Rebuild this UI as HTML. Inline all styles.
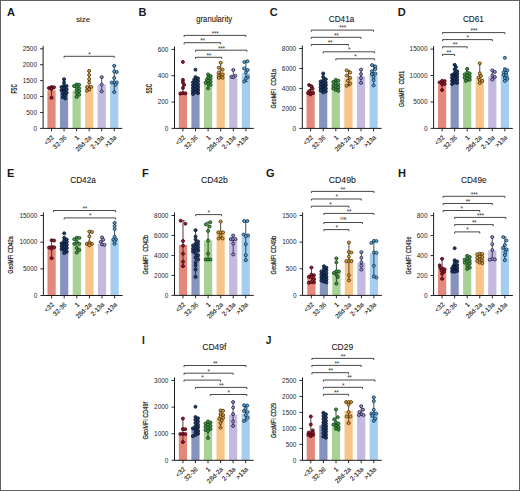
<!DOCTYPE html>
<html><head><meta charset="utf-8"><style>
html,body{margin:0;padding:0;background:#fff;overflow:hidden;width:520px;height:491px;}
svg{display:block;}
text{font-family:"Liberation Sans", sans-serif;}
</style></head><body>
<svg width="520" height="491" viewBox="0 0 520 491">
<rect x="0" y="0" width="520" height="491" fill="#fff"/>
<text x="6.9" y="16.2" font-size="11" font-weight="bold" fill="#1a1a1a">A</text>
<text x="83.2" y="21.7" font-size="7.9" text-anchor="middle" fill="#1a1a1a" stroke="#1a1a1a" stroke-width="0.1">size</text>
<rect x="47.4" y="90.19" width="8.2" height="38.21" fill="#E4887B"/>
<rect x="59.95" y="89.56" width="8.2" height="38.84" fill="#8793BF"/>
<rect x="72.5" y="90.51" width="8.2" height="37.89" fill="#A8D195"/>
<rect x="85.05" y="86.05" width="8.2" height="42.35" fill="#F9C488"/>
<rect x="97.6" y="84.46" width="8.2" height="43.94" fill="#C4B9DF"/>
<rect x="110.15" y="83.82" width="8.2" height="44.58" fill="#A4CDF0"/>
<path d="M51.5 87.01V97.83M49.7 87.01H53.3M49.7 97.83H53.3" stroke="#3a1a20" stroke-width="0.85" fill="none"/>
<path d="M64.05 79.24V98.47M62.25 79.24H65.85M62.25 98.47H65.85" stroke="#141c2c" stroke-width="0.85" fill="none"/>
<path d="M76.6 84.46V96.88M74.8 84.46H78.4M74.8 96.88H78.4" stroke="#1c301c" stroke-width="0.85" fill="none"/>
<path d="M89.15 70.9V90.7M87.35 70.9H90.95M87.35 90.7H90.95" stroke="#3c2c10" stroke-width="0.85" fill="none"/>
<path d="M101.7 77.14V91.47M99.9 77.14H103.5M99.9 91.47H103.5" stroke="#2a2840" stroke-width="0.85" fill="none"/>
<path d="M114.25 65.83V92.1M112.45 65.83H116.05M112.45 92.1H116.05" stroke="#1a2e40" stroke-width="0.85" fill="none"/>
<circle cx="51.5" cy="87.01" r="1.5" fill="#921C30" stroke="#45050f" stroke-width="0.85"/>
<circle cx="54.05" cy="87.33" r="1.5" fill="#921C30" stroke="#45050f" stroke-width="0.85"/>
<circle cx="48.95" cy="87.96" r="1.5" fill="#921C30" stroke="#45050f" stroke-width="0.85"/>
<circle cx="51.5" cy="88.6" r="1.5" fill="#921C30" stroke="#45050f" stroke-width="0.85"/>
<circle cx="51.5" cy="88.92" r="1.5" fill="#921C30" stroke="#45050f" stroke-width="0.85"/>
<circle cx="51.5" cy="97.83" r="1.5" fill="#921C30" stroke="#45050f" stroke-width="0.85"/>
<circle cx="64.05" cy="79.24" r="1.5" fill="#1F3C6A" stroke="#0a1630" stroke-width="0.85"/>
<circle cx="64.05" cy="82.55" r="1.5" fill="#1F3C6A" stroke="#0a1630" stroke-width="0.85"/>
<circle cx="64.05" cy="85.42" r="1.5" fill="#1F3C6A" stroke="#0a1630" stroke-width="0.85"/>
<circle cx="66.6" cy="86.05" r="1.5" fill="#1F3C6A" stroke="#0a1630" stroke-width="0.85"/>
<circle cx="61.5" cy="87.01" r="1.5" fill="#1F3C6A" stroke="#0a1630" stroke-width="0.85"/>
<circle cx="64.05" cy="87.64" r="1.5" fill="#1F3C6A" stroke="#0a1630" stroke-width="0.85"/>
<circle cx="64.05" cy="88.28" r="1.5" fill="#1F3C6A" stroke="#0a1630" stroke-width="0.85"/>
<circle cx="66.6" cy="89.24" r="1.5" fill="#1F3C6A" stroke="#0a1630" stroke-width="0.85"/>
<circle cx="61.5" cy="90.19" r="1.5" fill="#1F3C6A" stroke="#0a1630" stroke-width="0.85"/>
<circle cx="64.05" cy="90.83" r="1.5" fill="#1F3C6A" stroke="#0a1630" stroke-width="0.85"/>
<circle cx="64.05" cy="91.78" r="1.5" fill="#1F3C6A" stroke="#0a1630" stroke-width="0.85"/>
<circle cx="66.6" cy="92.74" r="1.5" fill="#1F3C6A" stroke="#0a1630" stroke-width="0.85"/>
<circle cx="62.77" cy="94.01" r="1.5" fill="#1F3C6A" stroke="#0a1630" stroke-width="0.85"/>
<circle cx="65.33" cy="95.29" r="1.5" fill="#1F3C6A" stroke="#0a1630" stroke-width="0.85"/>
<circle cx="62.77" cy="97.2" r="1.5" fill="#1F3C6A" stroke="#0a1630" stroke-width="0.85"/>
<circle cx="65.33" cy="98.47" r="1.5" fill="#1F3C6A" stroke="#0a1630" stroke-width="0.85"/>
<circle cx="76.6" cy="84.46" r="1.5" fill="#4A9C4C" stroke="#0f4014" stroke-width="0.85"/>
<circle cx="79.15" cy="84.78" r="1.5" fill="#4A9C4C" stroke="#0f4014" stroke-width="0.85"/>
<circle cx="74.05" cy="86.05" r="1.5" fill="#4A9C4C" stroke="#0f4014" stroke-width="0.85"/>
<circle cx="76.6" cy="86.69" r="1.5" fill="#4A9C4C" stroke="#0f4014" stroke-width="0.85"/>
<circle cx="79.15" cy="88.28" r="1.5" fill="#4A9C4C" stroke="#0f4014" stroke-width="0.85"/>
<circle cx="76.6" cy="89.56" r="1.5" fill="#4A9C4C" stroke="#0f4014" stroke-width="0.85"/>
<circle cx="79.15" cy="91.15" r="1.5" fill="#4A9C4C" stroke="#0f4014" stroke-width="0.85"/>
<circle cx="76.6" cy="92.74" r="1.5" fill="#4A9C4C" stroke="#0f4014" stroke-width="0.85"/>
<circle cx="79.15" cy="94.65" r="1.5" fill="#4A9C4C" stroke="#0f4014" stroke-width="0.85"/>
<circle cx="76.6" cy="96.88" r="1.5" fill="#4A9C4C" stroke="#0f4014" stroke-width="0.85"/>
<circle cx="87.15" cy="87.01" r="1.5" fill="#DDA445" stroke="#4f3206" stroke-width="0.85"/>
<circle cx="91.15" cy="86.85" r="1.5" fill="#DDA445" stroke="#4f3206" stroke-width="0.85"/>
<circle cx="86.95" cy="90.7" r="1.5" fill="#DDA445" stroke="#4f3206" stroke-width="0.85"/>
<circle cx="89.15" cy="70.9" r="1.5" fill="#DDA445" stroke="#4f3206" stroke-width="0.85"/>
<circle cx="89.15" cy="75.07" r="1.5" fill="#DDA445" stroke="#4f3206" stroke-width="0.85"/>
<circle cx="89.15" cy="79.24" r="1.5" fill="#DDA445" stroke="#4f3206" stroke-width="0.85"/>
<circle cx="89.15" cy="82.55" r="1.5" fill="#DDA445" stroke="#4f3206" stroke-width="0.85"/>
<circle cx="89.15" cy="89.2" r="1.5" fill="#DDA445" stroke="#4f3206" stroke-width="0.85"/>
<circle cx="101.7" cy="77.14" r="1.5" fill="#A097D0" stroke="#26224a" stroke-width="0.85"/>
<circle cx="101.7" cy="84.46" r="1.5" fill="#A097D0" stroke="#26224a" stroke-width="0.85"/>
<circle cx="101.7" cy="91.47" r="1.5" fill="#A097D0" stroke="#26224a" stroke-width="0.85"/>
<circle cx="114.25" cy="65.83" r="1.5" fill="#64A8D8" stroke="#0f3452" stroke-width="0.85"/>
<circle cx="114.25" cy="71.41" r="1.5" fill="#64A8D8" stroke="#0f3452" stroke-width="0.85"/>
<circle cx="116.8" cy="72.04" r="1.5" fill="#64A8D8" stroke="#0f3452" stroke-width="0.85"/>
<circle cx="114.25" cy="77.97" r="1.5" fill="#64A8D8" stroke="#0f3452" stroke-width="0.85"/>
<circle cx="114.25" cy="82.23" r="1.5" fill="#64A8D8" stroke="#0f3452" stroke-width="0.85"/>
<circle cx="116.8" cy="82.39" r="1.5" fill="#64A8D8" stroke="#0f3452" stroke-width="0.85"/>
<circle cx="111.7" cy="82.55" r="1.5" fill="#64A8D8" stroke="#0f3452" stroke-width="0.85"/>
<circle cx="115.53" cy="84.78" r="1.5" fill="#64A8D8" stroke="#0f3452" stroke-width="0.85"/>
<circle cx="114.25" cy="92.1" r="1.5" fill="#64A8D8" stroke="#0f3452" stroke-width="0.85"/>
<path d="M43.1 45.8V128.4H122.25" stroke="#1c1c1c" stroke-width="1" fill="none"/>
<path d="M40.1 128.4H43.1" stroke="#1c1c1c" stroke-width="0.95"/>
<text x="37" y="130.6" font-size="6.45" text-anchor="end" fill="#262626">0</text>
<path d="M40.1 112.48H43.1" stroke="#1c1c1c" stroke-width="0.95"/>
<text x="37" y="114.68" font-size="6.45" text-anchor="end" fill="#262626">500</text>
<path d="M40.1 96.56H43.1" stroke="#1c1c1c" stroke-width="0.95"/>
<text x="37" y="98.76" font-size="6.45" text-anchor="end" fill="#262626">1000</text>
<path d="M40.1 80.64H43.1" stroke="#1c1c1c" stroke-width="0.95"/>
<text x="37" y="82.84" font-size="6.45" text-anchor="end" fill="#262626">1500</text>
<path d="M40.1 64.72H43.1" stroke="#1c1c1c" stroke-width="0.95"/>
<text x="37" y="66.92" font-size="6.45" text-anchor="end" fill="#262626">2000</text>
<path d="M40.1 48.8H43.1" stroke="#1c1c1c" stroke-width="0.95"/>
<text x="37" y="51" font-size="6.45" text-anchor="end" fill="#262626">2500</text>
<path d="M51.5 128.4V131.3" stroke="#1c1c1c" stroke-width="0.95"/>
<text x="54.4" y="137.9" font-size="6.4" text-anchor="end" fill="#222" stroke="#222" stroke-width="0.1" transform="rotate(-45 54.4 137.9)">&lt;32</text>
<path d="M64.05 128.4V131.3" stroke="#1c1c1c" stroke-width="0.95"/>
<text x="66.95" y="137.9" font-size="6.4" text-anchor="end" fill="#222" stroke="#222" stroke-width="0.1" transform="rotate(-45 66.95 137.9)">32-36</text>
<path d="M76.6 128.4V131.3" stroke="#1c1c1c" stroke-width="0.95"/>
<text x="79.5" y="137.9" font-size="6.4" text-anchor="end" fill="#222" stroke="#222" stroke-width="0.1" transform="rotate(-45 79.5 137.9)">1</text>
<path d="M89.15 128.4V131.3" stroke="#1c1c1c" stroke-width="0.95"/>
<text x="92.05" y="137.9" font-size="6.4" text-anchor="end" fill="#222" stroke="#222" stroke-width="0.1" transform="rotate(-45 92.05 137.9)">28d-2a</text>
<path d="M101.7 128.4V131.3" stroke="#1c1c1c" stroke-width="0.95"/>
<text x="104.6" y="137.9" font-size="6.4" text-anchor="end" fill="#222" stroke="#222" stroke-width="0.1" transform="rotate(-45 104.6 137.9)">2-13a</text>
<path d="M114.25 128.4V131.3" stroke="#1c1c1c" stroke-width="0.95"/>
<text x="117.15" y="137.9" font-size="6.4" text-anchor="end" fill="#222" stroke="#222" stroke-width="0.1" transform="rotate(-45 117.15 137.9)">&gt;13a</text>
<text x="-4.75" y="0" font-size="8.3" font-weight="bold" fill="#1a1a1a" stroke="#1a1a1a" stroke-width="0" textLength="9.5" lengthAdjust="spacingAndGlyphs" transform="translate(16.67 88.85) rotate(-90)" xml:space="preserve">FSC</text>
<path d="M64.05 57.9V56.3H114.25V57.9" stroke="#333" stroke-width="0.9" fill="none"/>
<text x="89.3" y="56.65" font-size="6.4" text-anchor="middle" fill="#333" letter-spacing="-0.3">*</text>
<text x="138.6" y="16.2" font-size="11" font-weight="bold" fill="#1a1a1a">B</text>
<text x="214.2" y="21.8" font-size="8.2" text-anchor="middle" fill="#1a1a1a" stroke="#1a1a1a" stroke-width="0.1" textLength="35.8" lengthAdjust="spacingAndGlyphs">granularity</text>
<rect x="178.8" y="91.53" width="8.2" height="36.87" fill="#E4887B"/>
<rect x="191.4" y="84.95" width="8.2" height="43.45" fill="#8793BF"/>
<rect x="204" y="82.32" width="8.2" height="46.08" fill="#A8D195"/>
<rect x="216.6" y="72.44" width="8.2" height="55.96" fill="#F9C488"/>
<rect x="229.2" y="77.71" width="8.2" height="50.69" fill="#C4B9DF"/>
<rect x="241.8" y="73.1" width="8.2" height="55.3" fill="#A4CDF0"/>
<path d="M182.9 80.94V93.64M181.1 80.94H184.7M181.1 93.64H184.7" stroke="#3a1a20" stroke-width="0.85" fill="none"/>
<path d="M195.5 78.64V91.26M193.7 78.64H197.3M193.7 91.26H197.3" stroke="#141c2c" stroke-width="0.85" fill="none"/>
<path d="M208.1 74.42V88.37M206.3 74.42H209.9M206.3 88.37H209.9" stroke="#1c301c" stroke-width="0.85" fill="none"/>
<path d="M220.7 62.7V77.84M218.9 62.7H222.5M218.9 77.84H222.5" stroke="#3c2c10" stroke-width="0.85" fill="none"/>
<path d="M233.3 69.94V77.31M231.5 69.94H235.1M231.5 77.31H235.1" stroke="#2a2840" stroke-width="0.85" fill="none"/>
<path d="M245.9 61.25V81.53M244.1 61.25H247.7M244.1 81.53H247.7" stroke="#1a2e40" stroke-width="0.85" fill="none"/>
<circle cx="182.9" cy="61.91" r="1.5" fill="#921C30" stroke="#45050f" stroke-width="0.85"/>
<circle cx="182.9" cy="79.81" r="1.5" fill="#921C30" stroke="#45050f" stroke-width="0.85"/>
<circle cx="182.9" cy="82.45" r="1.5" fill="#921C30" stroke="#45050f" stroke-width="0.85"/>
<circle cx="184.18" cy="84.82" r="1.5" fill="#921C30" stroke="#45050f" stroke-width="0.85"/>
<circle cx="182.9" cy="87.98" r="1.5" fill="#921C30" stroke="#45050f" stroke-width="0.85"/>
<circle cx="182.9" cy="93.11" r="1.5" fill="#921C30" stroke="#45050f" stroke-width="0.85"/>
<circle cx="185.45" cy="93.38" r="1.5" fill="#921C30" stroke="#45050f" stroke-width="0.85"/>
<circle cx="180.35" cy="93.64" r="1.5" fill="#921C30" stroke="#45050f" stroke-width="0.85"/>
<circle cx="195.5" cy="69.68" r="1.5" fill="#1F3C6A" stroke="#0a1630" stroke-width="0.85"/>
<circle cx="195.5" cy="77.05" r="1.5" fill="#1F3C6A" stroke="#0a1630" stroke-width="0.85"/>
<circle cx="198.05" cy="78.37" r="1.5" fill="#1F3C6A" stroke="#0a1630" stroke-width="0.85"/>
<circle cx="194.22" cy="79.42" r="1.5" fill="#1F3C6A" stroke="#0a1630" stroke-width="0.85"/>
<circle cx="195.5" cy="80.34" r="1.5" fill="#1F3C6A" stroke="#0a1630" stroke-width="0.85"/>
<circle cx="198.05" cy="81.26" r="1.5" fill="#1F3C6A" stroke="#0a1630" stroke-width="0.85"/>
<circle cx="192.95" cy="82.32" r="1.5" fill="#1F3C6A" stroke="#0a1630" stroke-width="0.85"/>
<circle cx="195.5" cy="83.37" r="1.5" fill="#1F3C6A" stroke="#0a1630" stroke-width="0.85"/>
<circle cx="198.05" cy="84.29" r="1.5" fill="#1F3C6A" stroke="#0a1630" stroke-width="0.85"/>
<circle cx="192.95" cy="85.21" r="1.5" fill="#1F3C6A" stroke="#0a1630" stroke-width="0.85"/>
<circle cx="195.5" cy="86.27" r="1.5" fill="#1F3C6A" stroke="#0a1630" stroke-width="0.85"/>
<circle cx="198.05" cy="87.32" r="1.5" fill="#1F3C6A" stroke="#0a1630" stroke-width="0.85"/>
<circle cx="192.95" cy="88.24" r="1.5" fill="#1F3C6A" stroke="#0a1630" stroke-width="0.85"/>
<circle cx="195.5" cy="89.16" r="1.5" fill="#1F3C6A" stroke="#0a1630" stroke-width="0.85"/>
<circle cx="198.05" cy="90.22" r="1.5" fill="#1F3C6A" stroke="#0a1630" stroke-width="0.85"/>
<circle cx="192.95" cy="91.27" r="1.5" fill="#1F3C6A" stroke="#0a1630" stroke-width="0.85"/>
<circle cx="195.5" cy="92.19" r="1.5" fill="#1F3C6A" stroke="#0a1630" stroke-width="0.85"/>
<circle cx="198.05" cy="93.11" r="1.5" fill="#1F3C6A" stroke="#0a1630" stroke-width="0.85"/>
<circle cx="192.95" cy="93.9" r="1.5" fill="#1F3C6A" stroke="#0a1630" stroke-width="0.85"/>
<circle cx="208.1" cy="74.42" r="1.5" fill="#4A9C4C" stroke="#0f4014" stroke-width="0.85"/>
<circle cx="210.65" cy="76" r="1.5" fill="#4A9C4C" stroke="#0f4014" stroke-width="0.85"/>
<circle cx="208.1" cy="77.31" r="1.5" fill="#4A9C4C" stroke="#0f4014" stroke-width="0.85"/>
<circle cx="210.65" cy="78.63" r="1.5" fill="#4A9C4C" stroke="#0f4014" stroke-width="0.85"/>
<circle cx="206.82" cy="79.68" r="1.5" fill="#4A9C4C" stroke="#0f4014" stroke-width="0.85"/>
<circle cx="208.1" cy="80.74" r="1.5" fill="#4A9C4C" stroke="#0f4014" stroke-width="0.85"/>
<circle cx="210.65" cy="81.66" r="1.5" fill="#4A9C4C" stroke="#0f4014" stroke-width="0.85"/>
<circle cx="205.55" cy="82.71" r="1.5" fill="#4A9C4C" stroke="#0f4014" stroke-width="0.85"/>
<circle cx="208.1" cy="83.9" r="1.5" fill="#4A9C4C" stroke="#0f4014" stroke-width="0.85"/>
<circle cx="210.65" cy="84.95" r="1.5" fill="#4A9C4C" stroke="#0f4014" stroke-width="0.85"/>
<circle cx="208.1" cy="88.37" r="1.5" fill="#4A9C4C" stroke="#0f4014" stroke-width="0.85"/>
<circle cx="218.8" cy="67.7" r="1.5" fill="#DDA445" stroke="#4f3206" stroke-width="0.85"/>
<circle cx="222.6" cy="69.68" r="1.5" fill="#DDA445" stroke="#4f3206" stroke-width="0.85"/>
<circle cx="218.8" cy="72.44" r="1.5" fill="#DDA445" stroke="#4f3206" stroke-width="0.85"/>
<circle cx="222.6" cy="74.42" r="1.5" fill="#DDA445" stroke="#4f3206" stroke-width="0.85"/>
<circle cx="218.8" cy="75.73" r="1.5" fill="#DDA445" stroke="#4f3206" stroke-width="0.85"/>
<circle cx="218.8" cy="77.84" r="1.5" fill="#DDA445" stroke="#4f3206" stroke-width="0.85"/>
<circle cx="222.6" cy="77.84" r="1.5" fill="#DDA445" stroke="#4f3206" stroke-width="0.85"/>
<circle cx="220.7" cy="62.7" r="1.5" fill="#DDA445" stroke="#4f3206" stroke-width="0.85"/>
<circle cx="235.3" cy="75.73" r="1.5" fill="#A097D0" stroke="#26224a" stroke-width="0.85"/>
<circle cx="231.3" cy="76.79" r="1.5" fill="#A097D0" stroke="#26224a" stroke-width="0.85"/>
<circle cx="233.3" cy="77.31" r="1.5" fill="#A097D0" stroke="#26224a" stroke-width="0.85"/>
<circle cx="233.3" cy="69.94" r="1.5" fill="#A097D0" stroke="#26224a" stroke-width="0.85"/>
<circle cx="247.5" cy="61.25" r="1.5" fill="#64A8D8" stroke="#0f3452" stroke-width="0.85"/>
<circle cx="244.3" cy="62.04" r="1.5" fill="#64A8D8" stroke="#0f3452" stroke-width="0.85"/>
<circle cx="244.1" cy="68.49" r="1.5" fill="#64A8D8" stroke="#0f3452" stroke-width="0.85"/>
<circle cx="247.7" cy="69.94" r="1.5" fill="#64A8D8" stroke="#0f3452" stroke-width="0.85"/>
<circle cx="245.9" cy="72.44" r="1.5" fill="#64A8D8" stroke="#0f3452" stroke-width="0.85"/>
<circle cx="247.8" cy="77.18" r="1.5" fill="#64A8D8" stroke="#0f3452" stroke-width="0.85"/>
<circle cx="245.9" cy="78.63" r="1.5" fill="#64A8D8" stroke="#0f3452" stroke-width="0.85"/>
<circle cx="244.1" cy="81.53" r="1.5" fill="#64A8D8" stroke="#0f3452" stroke-width="0.85"/>
<path d="M174.5 46.4V128.4H253.9" stroke="#1c1c1c" stroke-width="1" fill="none"/>
<path d="M171.5 128.4H174.5" stroke="#1c1c1c" stroke-width="0.95"/>
<text x="168.4" y="130.6" font-size="6.45" text-anchor="end" fill="#262626">0</text>
<path d="M171.5 102.07H174.5" stroke="#1c1c1c" stroke-width="0.95"/>
<text x="168.4" y="104.27" font-size="6.45" text-anchor="end" fill="#262626">200</text>
<path d="M171.5 75.73H174.5" stroke="#1c1c1c" stroke-width="0.95"/>
<text x="168.4" y="77.93" font-size="6.45" text-anchor="end" fill="#262626">400</text>
<path d="M171.5 49.4H174.5" stroke="#1c1c1c" stroke-width="0.95"/>
<text x="168.4" y="51.6" font-size="6.45" text-anchor="end" fill="#262626">600</text>
<path d="M182.9 128.4V131.3" stroke="#1c1c1c" stroke-width="0.95"/>
<text x="185.8" y="137.9" font-size="6.4" text-anchor="end" fill="#222" stroke="#222" stroke-width="0.1" transform="rotate(-45 185.8 137.9)">&lt;32</text>
<path d="M195.5 128.4V131.3" stroke="#1c1c1c" stroke-width="0.95"/>
<text x="198.4" y="137.9" font-size="6.4" text-anchor="end" fill="#222" stroke="#222" stroke-width="0.1" transform="rotate(-45 198.4 137.9)">32-36</text>
<path d="M208.1 128.4V131.3" stroke="#1c1c1c" stroke-width="0.95"/>
<text x="211" y="137.9" font-size="6.4" text-anchor="end" fill="#222" stroke="#222" stroke-width="0.1" transform="rotate(-45 211 137.9)">1</text>
<path d="M220.7 128.4V131.3" stroke="#1c1c1c" stroke-width="0.95"/>
<text x="223.6" y="137.9" font-size="6.4" text-anchor="end" fill="#222" stroke="#222" stroke-width="0.1" transform="rotate(-45 223.6 137.9)">28d-2a</text>
<path d="M233.3 128.4V131.3" stroke="#1c1c1c" stroke-width="0.95"/>
<text x="236.2" y="137.9" font-size="6.4" text-anchor="end" fill="#222" stroke="#222" stroke-width="0.1" transform="rotate(-45 236.2 137.9)">2-13a</text>
<path d="M245.9 128.4V131.3" stroke="#1c1c1c" stroke-width="0.95"/>
<text x="248.8" y="137.9" font-size="6.4" text-anchor="end" fill="#222" stroke="#222" stroke-width="0.1" transform="rotate(-45 248.8 137.9)">&gt;13a</text>
<text x="-4.9" y="0" font-size="8.3" font-weight="bold" fill="#1a1a1a" stroke="#1a1a1a" stroke-width="0" textLength="9.8" lengthAdjust="spacingAndGlyphs" transform="translate(151.87 88.7) rotate(-90)" xml:space="preserve">SSC</text>
<path d="M184.1 37V35.4H245.9V37" stroke="#333" stroke-width="0.9" fill="none"/>
<text x="215.15" y="35.75" font-size="6.4" text-anchor="middle" fill="#333" letter-spacing="-0.3">***</text>
<path d="M184.1 44.3V42.7H220.7V44.3" stroke="#333" stroke-width="0.9" fill="none"/>
<text x="202.55" y="43.05" font-size="6.4" text-anchor="middle" fill="#333" letter-spacing="-0.3">**</text>
<path d="M195.5 51.8V50.2H246.9V51.8" stroke="#333" stroke-width="0.9" fill="none"/>
<text x="221.35" y="50.55" font-size="6.4" text-anchor="middle" fill="#333" letter-spacing="-0.3">***</text>
<path d="M195.5 58.9V57.3H221.7V58.9" stroke="#333" stroke-width="0.9" fill="none"/>
<text x="208.75" y="57.65" font-size="6.4" text-anchor="middle" fill="#333" letter-spacing="-0.3">**</text>
<text x="269.8" y="16.2" font-size="11" font-weight="bold" fill="#1a1a1a">C</text>
<text x="341.5" y="21.7" font-size="8.2" text-anchor="middle" fill="#1a1a1a" stroke="#1a1a1a" stroke-width="0.1">CD41a</text>
<rect x="306.5" y="90.45" width="8.2" height="37.95" fill="#E4887B"/>
<rect x="319.1" y="84.46" width="8.2" height="43.94" fill="#8793BF"/>
<rect x="331.7" y="85.45" width="8.2" height="42.95" fill="#A8D195"/>
<rect x="344.3" y="78.46" width="8.2" height="49.94" fill="#F9C488"/>
<rect x="356.9" y="76.27" width="8.2" height="52.13" fill="#C4B9DF"/>
<rect x="369.5" y="73.47" width="8.2" height="54.93" fill="#A4CDF0"/>
<path d="M310.6 85.05V94.44M308.8 85.05H312.4M308.8 94.44H312.4" stroke="#3a1a20" stroke-width="0.85" fill="none"/>
<path d="M323.2 73.47V92.35M321.4 73.47H325M321.4 92.35H325" stroke="#141c2c" stroke-width="0.85" fill="none"/>
<path d="M335.8 79.86V90.85M334 79.86H337.6M334 90.85H337.6" stroke="#1c301c" stroke-width="0.85" fill="none"/>
<path d="M348.4 70.37V85.75M346.6 70.37H350.2M346.6 85.75H350.2" stroke="#3c2c10" stroke-width="0.85" fill="none"/>
<path d="M361 69.67V82.86M359.2 69.67H362.8M359.2 82.86H362.8" stroke="#2a2840" stroke-width="0.85" fill="none"/>
<path d="M373.6 65.08V85.45M371.8 65.08H375.4M371.8 85.45H375.4" stroke="#1a2e40" stroke-width="0.85" fill="none"/>
<circle cx="309.1" cy="85.05" r="1.5" fill="#921C30" stroke="#45050f" stroke-width="0.85"/>
<circle cx="311.6" cy="86.45" r="1.5" fill="#921C30" stroke="#45050f" stroke-width="0.85"/>
<circle cx="312.6" cy="88.65" r="1.5" fill="#921C30" stroke="#45050f" stroke-width="0.85"/>
<circle cx="309.6" cy="90.85" r="1.5" fill="#921C30" stroke="#45050f" stroke-width="0.85"/>
<circle cx="308.1" cy="93.04" r="1.5" fill="#921C30" stroke="#45050f" stroke-width="0.85"/>
<circle cx="310.6" cy="93.04" r="1.5" fill="#921C30" stroke="#45050f" stroke-width="0.85"/>
<circle cx="313.1" cy="93.04" r="1.5" fill="#921C30" stroke="#45050f" stroke-width="0.85"/>
<circle cx="310.6" cy="94.44" r="1.5" fill="#921C30" stroke="#45050f" stroke-width="0.85"/>
<circle cx="323.2" cy="73.47" r="1.5" fill="#1F3C6A" stroke="#0a1630" stroke-width="0.85"/>
<circle cx="323.2" cy="76.96" r="1.5" fill="#1F3C6A" stroke="#0a1630" stroke-width="0.85"/>
<circle cx="325.75" cy="79.16" r="1.5" fill="#1F3C6A" stroke="#0a1630" stroke-width="0.85"/>
<circle cx="323.2" cy="80.46" r="1.5" fill="#1F3C6A" stroke="#0a1630" stroke-width="0.85"/>
<circle cx="320.65" cy="81.46" r="1.5" fill="#1F3C6A" stroke="#0a1630" stroke-width="0.85"/>
<circle cx="325.75" cy="82.46" r="1.5" fill="#1F3C6A" stroke="#0a1630" stroke-width="0.85"/>
<circle cx="323.2" cy="83.46" r="1.5" fill="#1F3C6A" stroke="#0a1630" stroke-width="0.85"/>
<circle cx="320.65" cy="84.26" r="1.5" fill="#1F3C6A" stroke="#0a1630" stroke-width="0.85"/>
<circle cx="325.75" cy="85.05" r="1.5" fill="#1F3C6A" stroke="#0a1630" stroke-width="0.85"/>
<circle cx="323.2" cy="85.85" r="1.5" fill="#1F3C6A" stroke="#0a1630" stroke-width="0.85"/>
<circle cx="323.2" cy="86.65" r="1.5" fill="#1F3C6A" stroke="#0a1630" stroke-width="0.85"/>
<circle cx="320.65" cy="87.45" r="1.5" fill="#1F3C6A" stroke="#0a1630" stroke-width="0.85"/>
<circle cx="325.75" cy="88.45" r="1.5" fill="#1F3C6A" stroke="#0a1630" stroke-width="0.85"/>
<circle cx="323.2" cy="89.45" r="1.5" fill="#1F3C6A" stroke="#0a1630" stroke-width="0.85"/>
<circle cx="320.65" cy="90.45" r="1.5" fill="#1F3C6A" stroke="#0a1630" stroke-width="0.85"/>
<circle cx="325.75" cy="91.45" r="1.5" fill="#1F3C6A" stroke="#0a1630" stroke-width="0.85"/>
<circle cx="323.2" cy="92.35" r="1.5" fill="#1F3C6A" stroke="#0a1630" stroke-width="0.85"/>
<circle cx="335.8" cy="79.86" r="1.5" fill="#4A9C4C" stroke="#0f4014" stroke-width="0.85"/>
<circle cx="338.35" cy="80.66" r="1.5" fill="#4A9C4C" stroke="#0f4014" stroke-width="0.85"/>
<circle cx="333.25" cy="81.96" r="1.5" fill="#4A9C4C" stroke="#0f4014" stroke-width="0.85"/>
<circle cx="335.8" cy="83.26" r="1.5" fill="#4A9C4C" stroke="#0f4014" stroke-width="0.85"/>
<circle cx="338.35" cy="84.46" r="1.5" fill="#4A9C4C" stroke="#0f4014" stroke-width="0.85"/>
<circle cx="333.25" cy="85.45" r="1.5" fill="#4A9C4C" stroke="#0f4014" stroke-width="0.85"/>
<circle cx="335.8" cy="86.45" r="1.5" fill="#4A9C4C" stroke="#0f4014" stroke-width="0.85"/>
<circle cx="338.35" cy="87.45" r="1.5" fill="#4A9C4C" stroke="#0f4014" stroke-width="0.85"/>
<circle cx="333.25" cy="88.45" r="1.5" fill="#4A9C4C" stroke="#0f4014" stroke-width="0.85"/>
<circle cx="335.8" cy="89.65" r="1.5" fill="#4A9C4C" stroke="#0f4014" stroke-width="0.85"/>
<circle cx="338.35" cy="90.85" r="1.5" fill="#4A9C4C" stroke="#0f4014" stroke-width="0.85"/>
<circle cx="346.6" cy="70.37" r="1.5" fill="#DDA445" stroke="#4f3206" stroke-width="0.85"/>
<circle cx="350.2" cy="72.57" r="1.5" fill="#DDA445" stroke="#4f3206" stroke-width="0.85"/>
<circle cx="346.6" cy="75.57" r="1.5" fill="#DDA445" stroke="#4f3206" stroke-width="0.85"/>
<circle cx="350.2" cy="77.76" r="1.5" fill="#DDA445" stroke="#4f3206" stroke-width="0.85"/>
<circle cx="347.9" cy="80.66" r="1.5" fill="#DDA445" stroke="#4f3206" stroke-width="0.85"/>
<circle cx="350.2" cy="83.56" r="1.5" fill="#DDA445" stroke="#4f3206" stroke-width="0.85"/>
<circle cx="346.6" cy="85.75" r="1.5" fill="#DDA445" stroke="#4f3206" stroke-width="0.85"/>
<circle cx="361" cy="69.67" r="1.5" fill="#A097D0" stroke="#26224a" stroke-width="0.85"/>
<circle cx="361" cy="74.07" r="1.5" fill="#A097D0" stroke="#26224a" stroke-width="0.85"/>
<circle cx="361" cy="78.16" r="1.5" fill="#A097D0" stroke="#26224a" stroke-width="0.85"/>
<circle cx="361" cy="82.86" r="1.5" fill="#A097D0" stroke="#26224a" stroke-width="0.85"/>
<circle cx="372" cy="65.08" r="1.5" fill="#64A8D8" stroke="#0f3452" stroke-width="0.85"/>
<circle cx="375.4" cy="66.58" r="1.5" fill="#64A8D8" stroke="#0f3452" stroke-width="0.85"/>
<circle cx="375.4" cy="69.07" r="1.5" fill="#64A8D8" stroke="#0f3452" stroke-width="0.85"/>
<circle cx="371.8" cy="71.27" r="1.5" fill="#64A8D8" stroke="#0f3452" stroke-width="0.85"/>
<circle cx="375.4" cy="73.47" r="1.5" fill="#64A8D8" stroke="#0f3452" stroke-width="0.85"/>
<circle cx="371.8" cy="74.17" r="1.5" fill="#64A8D8" stroke="#0f3452" stroke-width="0.85"/>
<circle cx="373.6" cy="76.96" r="1.5" fill="#64A8D8" stroke="#0f3452" stroke-width="0.85"/>
<circle cx="373.6" cy="80.16" r="1.5" fill="#64A8D8" stroke="#0f3452" stroke-width="0.85"/>
<circle cx="373.6" cy="85.45" r="1.5" fill="#64A8D8" stroke="#0f3452" stroke-width="0.85"/>
<path d="M302.3 45.5V128.4H381.6" stroke="#1c1c1c" stroke-width="1" fill="none"/>
<path d="M299.3 128.4H302.3" stroke="#1c1c1c" stroke-width="0.95"/>
<text x="296.2" y="130.6" font-size="6.45" text-anchor="end" fill="#262626">0</text>
<path d="M299.3 108.43H302.3" stroke="#1c1c1c" stroke-width="0.95"/>
<text x="296.2" y="110.63" font-size="6.45" text-anchor="end" fill="#262626">2000</text>
<path d="M299.3 88.45H302.3" stroke="#1c1c1c" stroke-width="0.95"/>
<text x="296.2" y="90.65" font-size="6.45" text-anchor="end" fill="#262626">4000</text>
<path d="M299.3 68.47H302.3" stroke="#1c1c1c" stroke-width="0.95"/>
<text x="296.2" y="70.67" font-size="6.45" text-anchor="end" fill="#262626">6000</text>
<path d="M299.3 48.5H302.3" stroke="#1c1c1c" stroke-width="0.95"/>
<text x="296.2" y="50.7" font-size="6.45" text-anchor="end" fill="#262626">8000</text>
<path d="M310.6 128.4V131.3" stroke="#1c1c1c" stroke-width="0.95"/>
<text x="313.5" y="137.9" font-size="6.4" text-anchor="end" fill="#222" stroke="#222" stroke-width="0.1" transform="rotate(-45 313.5 137.9)">&lt;32</text>
<path d="M323.2 128.4V131.3" stroke="#1c1c1c" stroke-width="0.95"/>
<text x="326.1" y="137.9" font-size="6.4" text-anchor="end" fill="#222" stroke="#222" stroke-width="0.1" transform="rotate(-45 326.1 137.9)">32-36</text>
<path d="M335.8 128.4V131.3" stroke="#1c1c1c" stroke-width="0.95"/>
<text x="338.7" y="137.9" font-size="6.4" text-anchor="end" fill="#222" stroke="#222" stroke-width="0.1" transform="rotate(-45 338.7 137.9)">1</text>
<path d="M348.4 128.4V131.3" stroke="#1c1c1c" stroke-width="0.95"/>
<text x="351.3" y="137.9" font-size="6.4" text-anchor="end" fill="#222" stroke="#222" stroke-width="0.1" transform="rotate(-45 351.3 137.9)">28d-2a</text>
<path d="M361 128.4V131.3" stroke="#1c1c1c" stroke-width="0.95"/>
<text x="363.9" y="137.9" font-size="6.4" text-anchor="end" fill="#222" stroke="#222" stroke-width="0.1" transform="rotate(-45 363.9 137.9)">2-13a</text>
<path d="M373.6 128.4V131.3" stroke="#1c1c1c" stroke-width="0.95"/>
<text x="376.5" y="137.9" font-size="6.4" text-anchor="end" fill="#222" stroke="#222" stroke-width="0.1" transform="rotate(-45 376.5 137.9)">&gt;13a</text>
<text x="-19.75" y="0" font-size="7.9" font-weight="normal" fill="#1a1a1a" stroke="#1a1a1a" stroke-width="0.22" textLength="39.5" lengthAdjust="spacingAndGlyphs" transform="translate(275.7 88.65) rotate(-90)" xml:space="preserve">GeoMFI  CD41a</text>
<path d="M311.3 31.7V30.1H373.6V31.7" stroke="#333" stroke-width="0.9" fill="none"/>
<text x="342.6" y="30.45" font-size="6.4" text-anchor="middle" fill="#333" letter-spacing="-0.3">***</text>
<path d="M311.3 38.9V37.3H361V38.9" stroke="#333" stroke-width="0.9" fill="none"/>
<text x="336.3" y="37.65" font-size="6.4" text-anchor="middle" fill="#333" letter-spacing="-0.3">**</text>
<path d="M311.3 46.1V44.5H348.4V46.1" stroke="#333" stroke-width="0.9" fill="none"/>
<text x="330" y="44.85" font-size="6.4" text-anchor="middle" fill="#333" letter-spacing="-0.3">**</text>
<path d="M323.2 53.4V51.8H374.6V53.4" stroke="#333" stroke-width="0.9" fill="none"/>
<text x="349.05" y="52.15" font-size="6.4" text-anchor="middle" fill="#333" letter-spacing="-0.3">*</text>
<path d="M335.8 60.4V58.8H374.6V60.4" stroke="#333" stroke-width="0.9" fill="none"/>
<text x="355.35" y="59.15" font-size="6.4" text-anchor="middle" fill="#333" letter-spacing="-0.3">*</text>
<text x="397.8" y="16.2" font-size="11" font-weight="bold" fill="#1a1a1a">D</text>
<text x="473.4" y="21.7" font-size="8.2" text-anchor="middle" fill="#1a1a1a" stroke="#1a1a1a" stroke-width="0.1">CD61</text>
<rect x="438" y="84.52" width="8.2" height="43.88" fill="#E4887B"/>
<rect x="450.55" y="76.59" width="8.2" height="51.81" fill="#8793BF"/>
<rect x="463.1" y="76.59" width="8.2" height="51.81" fill="#A8D195"/>
<rect x="475.65" y="78.18" width="8.2" height="50.22" fill="#F9C488"/>
<rect x="488.2" y="76.59" width="8.2" height="51.81" fill="#C4B9DF"/>
<rect x="500.75" y="74.48" width="8.2" height="53.92" fill="#A4CDF0"/>
<path d="M442.1 80.82V90.04M440.3 80.82H443.9M440.3 90.04H443.9" stroke="#3a1a20" stroke-width="0.85" fill="none"/>
<path d="M454.65 64.83V83.99M452.85 64.83H456.45M452.85 83.99H456.45" stroke="#141c2c" stroke-width="0.85" fill="none"/>
<path d="M467.2 68.87V80.93M465.4 68.87H469M465.4 80.93H469" stroke="#1c301c" stroke-width="0.85" fill="none"/>
<path d="M479.75 63.37V83.04M477.95 63.37H481.55M477.95 83.04H481.55" stroke="#3c2c10" stroke-width="0.85" fill="none"/>
<path d="M492.3 70.35V79.45M490.5 70.35H494.1M490.5 79.45H494.1" stroke="#2a2840" stroke-width="0.85" fill="none"/>
<path d="M504.85 67.97V80.93M503.05 67.97H506.65M503.05 80.93H506.65" stroke="#1a2e40" stroke-width="0.85" fill="none"/>
<circle cx="442.1" cy="80.82" r="1.5" fill="#921C30" stroke="#45050f" stroke-width="0.85"/>
<circle cx="444.65" cy="81.08" r="1.5" fill="#921C30" stroke="#45050f" stroke-width="0.85"/>
<circle cx="439.55" cy="82.41" r="1.5" fill="#921C30" stroke="#45050f" stroke-width="0.85"/>
<circle cx="442.1" cy="83.46" r="1.5" fill="#921C30" stroke="#45050f" stroke-width="0.85"/>
<circle cx="444.65" cy="83.99" r="1.5" fill="#921C30" stroke="#45050f" stroke-width="0.85"/>
<circle cx="442.1" cy="84.26" r="1.5" fill="#921C30" stroke="#45050f" stroke-width="0.85"/>
<circle cx="442.1" cy="90.04" r="1.5" fill="#921C30" stroke="#45050f" stroke-width="0.85"/>
<circle cx="454.65" cy="64.83" r="1.5" fill="#1F3C6A" stroke="#0a1630" stroke-width="0.85"/>
<circle cx="455.93" cy="67.07" r="1.5" fill="#1F3C6A" stroke="#0a1630" stroke-width="0.85"/>
<circle cx="454.65" cy="69.37" r="1.5" fill="#1F3C6A" stroke="#0a1630" stroke-width="0.85"/>
<circle cx="457.2" cy="71.3" r="1.5" fill="#1F3C6A" stroke="#0a1630" stroke-width="0.85"/>
<circle cx="454.65" cy="72.89" r="1.5" fill="#1F3C6A" stroke="#0a1630" stroke-width="0.85"/>
<circle cx="457.2" cy="73.95" r="1.5" fill="#1F3C6A" stroke="#0a1630" stroke-width="0.85"/>
<circle cx="452.1" cy="75" r="1.5" fill="#1F3C6A" stroke="#0a1630" stroke-width="0.85"/>
<circle cx="454.65" cy="75.53" r="1.5" fill="#1F3C6A" stroke="#0a1630" stroke-width="0.85"/>
<circle cx="454.65" cy="76.06" r="1.5" fill="#1F3C6A" stroke="#0a1630" stroke-width="0.85"/>
<circle cx="457.2" cy="76.59" r="1.5" fill="#1F3C6A" stroke="#0a1630" stroke-width="0.85"/>
<circle cx="454.65" cy="77.12" r="1.5" fill="#1F3C6A" stroke="#0a1630" stroke-width="0.85"/>
<circle cx="452.1" cy="77.65" r="1.5" fill="#1F3C6A" stroke="#0a1630" stroke-width="0.85"/>
<circle cx="454.65" cy="78.71" r="1.5" fill="#1F3C6A" stroke="#0a1630" stroke-width="0.85"/>
<circle cx="457.2" cy="79.76" r="1.5" fill="#1F3C6A" stroke="#0a1630" stroke-width="0.85"/>
<circle cx="452.1" cy="80.82" r="1.5" fill="#1F3C6A" stroke="#0a1630" stroke-width="0.85"/>
<circle cx="454.65" cy="81.88" r="1.5" fill="#1F3C6A" stroke="#0a1630" stroke-width="0.85"/>
<circle cx="457.2" cy="82.93" r="1.5" fill="#1F3C6A" stroke="#0a1630" stroke-width="0.85"/>
<circle cx="452.1" cy="83.99" r="1.5" fill="#1F3C6A" stroke="#0a1630" stroke-width="0.85"/>
<circle cx="467.2" cy="68.87" r="1.5" fill="#4A9C4C" stroke="#0f4014" stroke-width="0.85"/>
<circle cx="467.2" cy="72.41" r="1.5" fill="#4A9C4C" stroke="#0f4014" stroke-width="0.85"/>
<circle cx="469.75" cy="73.42" r="1.5" fill="#4A9C4C" stroke="#0f4014" stroke-width="0.85"/>
<circle cx="464.65" cy="74.48" r="1.5" fill="#4A9C4C" stroke="#0f4014" stroke-width="0.85"/>
<circle cx="467.2" cy="75.53" r="1.5" fill="#4A9C4C" stroke="#0f4014" stroke-width="0.85"/>
<circle cx="469.75" cy="76.59" r="1.5" fill="#4A9C4C" stroke="#0f4014" stroke-width="0.85"/>
<circle cx="464.65" cy="77.65" r="1.5" fill="#4A9C4C" stroke="#0f4014" stroke-width="0.85"/>
<circle cx="467.2" cy="78.71" r="1.5" fill="#4A9C4C" stroke="#0f4014" stroke-width="0.85"/>
<circle cx="469.75" cy="79.76" r="1.5" fill="#4A9C4C" stroke="#0f4014" stroke-width="0.85"/>
<circle cx="465.93" cy="80.93" r="1.5" fill="#4A9C4C" stroke="#0f4014" stroke-width="0.85"/>
<circle cx="479.75" cy="63.37" r="1.5" fill="#DDA445" stroke="#4f3206" stroke-width="0.85"/>
<circle cx="479.75" cy="73.42" r="1.5" fill="#DDA445" stroke="#4f3206" stroke-width="0.85"/>
<circle cx="481.02" cy="75.9" r="1.5" fill="#DDA445" stroke="#4f3206" stroke-width="0.85"/>
<circle cx="478.48" cy="77.49" r="1.5" fill="#DDA445" stroke="#4f3206" stroke-width="0.85"/>
<circle cx="479.75" cy="79.97" r="1.5" fill="#DDA445" stroke="#4f3206" stroke-width="0.85"/>
<circle cx="482.3" cy="80.93" r="1.5" fill="#DDA445" stroke="#4f3206" stroke-width="0.85"/>
<circle cx="479.75" cy="83.04" r="1.5" fill="#DDA445" stroke="#4f3206" stroke-width="0.85"/>
<circle cx="492.3" cy="70.35" r="1.5" fill="#A097D0" stroke="#26224a" stroke-width="0.85"/>
<circle cx="494.85" cy="71.94" r="1.5" fill="#A097D0" stroke="#26224a" stroke-width="0.85"/>
<circle cx="492.3" cy="75.43" r="1.5" fill="#A097D0" stroke="#26224a" stroke-width="0.85"/>
<circle cx="494.85" cy="76.96" r="1.5" fill="#A097D0" stroke="#26224a" stroke-width="0.85"/>
<circle cx="492.3" cy="79.45" r="1.5" fill="#A097D0" stroke="#26224a" stroke-width="0.85"/>
<circle cx="504.85" cy="57.82" r="1.5" fill="#64A8D8" stroke="#0f3452" stroke-width="0.85"/>
<circle cx="504.85" cy="69.88" r="1.5" fill="#64A8D8" stroke="#0f3452" stroke-width="0.85"/>
<circle cx="507.4" cy="70.25" r="1.5" fill="#64A8D8" stroke="#0f3452" stroke-width="0.85"/>
<circle cx="503.58" cy="72.36" r="1.5" fill="#64A8D8" stroke="#0f3452" stroke-width="0.85"/>
<circle cx="506.12" cy="72.89" r="1.5" fill="#64A8D8" stroke="#0f3452" stroke-width="0.85"/>
<circle cx="503.58" cy="75" r="1.5" fill="#64A8D8" stroke="#0f3452" stroke-width="0.85"/>
<circle cx="506.12" cy="75.53" r="1.5" fill="#64A8D8" stroke="#0f3452" stroke-width="0.85"/>
<circle cx="504.85" cy="78.18" r="1.5" fill="#64A8D8" stroke="#0f3452" stroke-width="0.85"/>
<circle cx="507.4" cy="78.71" r="1.5" fill="#64A8D8" stroke="#0f3452" stroke-width="0.85"/>
<circle cx="504.85" cy="80.93" r="1.5" fill="#64A8D8" stroke="#0f3452" stroke-width="0.85"/>
<path d="M433.6 46.1V128.4H512.85" stroke="#1c1c1c" stroke-width="1" fill="none"/>
<path d="M430.6 128.4H433.6" stroke="#1c1c1c" stroke-width="0.95"/>
<text x="427.5" y="130.6" font-size="6.45" text-anchor="end" fill="#262626">0</text>
<path d="M430.6 101.97H433.6" stroke="#1c1c1c" stroke-width="0.95"/>
<text x="427.5" y="104.17" font-size="6.45" text-anchor="end" fill="#262626">5000</text>
<path d="M430.6 75.53H433.6" stroke="#1c1c1c" stroke-width="0.95"/>
<text x="427.5" y="77.73" font-size="6.45" text-anchor="end" fill="#262626">10000</text>
<path d="M430.6 49.1H433.6" stroke="#1c1c1c" stroke-width="0.95"/>
<text x="427.5" y="51.3" font-size="6.45" text-anchor="end" fill="#262626">15000</text>
<path d="M442.1 128.4V131.3" stroke="#1c1c1c" stroke-width="0.95"/>
<text x="445" y="137.9" font-size="6.4" text-anchor="end" fill="#222" stroke="#222" stroke-width="0.1" transform="rotate(-45 445 137.9)">&lt;32</text>
<path d="M454.65 128.4V131.3" stroke="#1c1c1c" stroke-width="0.95"/>
<text x="457.55" y="137.9" font-size="6.4" text-anchor="end" fill="#222" stroke="#222" stroke-width="0.1" transform="rotate(-45 457.55 137.9)">32-36</text>
<path d="M467.2 128.4V131.3" stroke="#1c1c1c" stroke-width="0.95"/>
<text x="470.1" y="137.9" font-size="6.4" text-anchor="end" fill="#222" stroke="#222" stroke-width="0.1" transform="rotate(-45 470.1 137.9)">1</text>
<path d="M479.75 128.4V131.3" stroke="#1c1c1c" stroke-width="0.95"/>
<text x="482.65" y="137.9" font-size="6.4" text-anchor="end" fill="#222" stroke="#222" stroke-width="0.1" transform="rotate(-45 482.65 137.9)">28d-2a</text>
<path d="M492.3 128.4V131.3" stroke="#1c1c1c" stroke-width="0.95"/>
<text x="495.2" y="137.9" font-size="6.4" text-anchor="end" fill="#222" stroke="#222" stroke-width="0.1" transform="rotate(-45 495.2 137.9)">2-13a</text>
<path d="M504.85 128.4V131.3" stroke="#1c1c1c" stroke-width="0.95"/>
<text x="507.75" y="137.9" font-size="6.4" text-anchor="end" fill="#222" stroke="#222" stroke-width="0.1" transform="rotate(-45 507.75 137.9)">&gt;13a</text>
<text x="-18.05" y="0" font-size="7.9" font-weight="normal" fill="#1a1a1a" stroke="#1a1a1a" stroke-width="0.22" textLength="36.1" lengthAdjust="spacingAndGlyphs" transform="translate(403.95 88.85) rotate(-90)" xml:space="preserve">GeoMFI  CD61</text>
<path d="M442.6 34.2V32.6H504.85V34.2" stroke="#333" stroke-width="0.9" fill="none"/>
<text x="473.88" y="32.95" font-size="6.4" text-anchor="middle" fill="#333" letter-spacing="-0.3">***</text>
<path d="M442.6 41.2V39.6H492.3V41.2" stroke="#333" stroke-width="0.9" fill="none"/>
<text x="467.6" y="39.95" font-size="6.4" text-anchor="middle" fill="#333" letter-spacing="-0.3">*</text>
<path d="M442.6 48.4V46.8H467.2V48.4" stroke="#333" stroke-width="0.9" fill="none"/>
<text x="455.05" y="47.15" font-size="6.4" text-anchor="middle" fill="#333" letter-spacing="-0.3">**</text>
<path d="M442.6 56V54.4H454.65V56" stroke="#333" stroke-width="0.9" fill="none"/>
<text x="448.77" y="54.75" font-size="6.4" text-anchor="middle" fill="#333" letter-spacing="-0.3">**</text>
<text x="7" y="177.1" font-size="11" font-weight="bold" fill="#1a1a1a">E</text>
<text x="83" y="183" font-size="8.2" text-anchor="middle" fill="#1a1a1a" stroke="#1a1a1a" stroke-width="0.1">CD42a</text>
<rect x="47.5" y="248.03" width="8.2" height="47.47" fill="#E4887B"/>
<rect x="60.1" y="244.83" width="8.2" height="50.67" fill="#8793BF"/>
<rect x="72.7" y="244.83" width="8.2" height="50.67" fill="#A8D195"/>
<rect x="85.3" y="244.3" width="8.2" height="51.2" fill="#F9C488"/>
<rect x="97.9" y="243.77" width="8.2" height="51.73" fill="#C4B9DF"/>
<rect x="110.5" y="239.5" width="8.2" height="56" fill="#A4CDF0"/>
<path d="M51.6 240.25V258.17M49.8 240.25H53.4M49.8 258.17H53.4" stroke="#3a1a20" stroke-width="0.85" fill="none"/>
<path d="M64.2 239.74V249.92M62.4 239.74H66M62.4 249.92H66" stroke="#141c2c" stroke-width="0.85" fill="none"/>
<path d="M76.8 237.74V252.62M75 237.74H78.6M75 252.62H78.6" stroke="#1c301c" stroke-width="0.85" fill="none"/>
<path d="M89.4 231.61V245.37M87.6 231.61H91.2M87.6 245.37H91.2" stroke="#3c2c10" stroke-width="0.85" fill="none"/>
<path d="M102 237.42V244.83M100.2 237.42H103.8M100.2 244.83H103.8" stroke="#2a2840" stroke-width="0.85" fill="none"/>
<path d="M114.6 222.86V243.87M112.8 222.86H116.4M112.8 243.87H116.4" stroke="#1a2e40" stroke-width="0.85" fill="none"/>
<circle cx="51.6" cy="240.25" r="1.5" fill="#921C30" stroke="#45050f" stroke-width="0.85"/>
<circle cx="54.15" cy="240.57" r="1.5" fill="#921C30" stroke="#45050f" stroke-width="0.85"/>
<circle cx="51.6" cy="246.97" r="1.5" fill="#921C30" stroke="#45050f" stroke-width="0.85"/>
<circle cx="54.15" cy="247.23" r="1.5" fill="#921C30" stroke="#45050f" stroke-width="0.85"/>
<circle cx="49.05" cy="247.5" r="1.5" fill="#921C30" stroke="#45050f" stroke-width="0.85"/>
<circle cx="51.6" cy="248.46" r="1.5" fill="#921C30" stroke="#45050f" stroke-width="0.85"/>
<circle cx="51.6" cy="258.17" r="1.5" fill="#921C30" stroke="#45050f" stroke-width="0.85"/>
<circle cx="64.2" cy="233.31" r="1.5" fill="#1F3C6A" stroke="#0a1630" stroke-width="0.85"/>
<circle cx="64.2" cy="237.74" r="1.5" fill="#1F3C6A" stroke="#0a1630" stroke-width="0.85"/>
<circle cx="66.75" cy="239.5" r="1.5" fill="#1F3C6A" stroke="#0a1630" stroke-width="0.85"/>
<circle cx="64.2" cy="241.1" r="1.5" fill="#1F3C6A" stroke="#0a1630" stroke-width="0.85"/>
<circle cx="66.75" cy="242.17" r="1.5" fill="#1F3C6A" stroke="#0a1630" stroke-width="0.85"/>
<circle cx="61.65" cy="243.23" r="1.5" fill="#1F3C6A" stroke="#0a1630" stroke-width="0.85"/>
<circle cx="64.2" cy="243.77" r="1.5" fill="#1F3C6A" stroke="#0a1630" stroke-width="0.85"/>
<circle cx="64.2" cy="244.3" r="1.5" fill="#1F3C6A" stroke="#0a1630" stroke-width="0.85"/>
<circle cx="66.75" cy="244.83" r="1.5" fill="#1F3C6A" stroke="#0a1630" stroke-width="0.85"/>
<circle cx="64.2" cy="245.37" r="1.5" fill="#1F3C6A" stroke="#0a1630" stroke-width="0.85"/>
<circle cx="61.65" cy="245.9" r="1.5" fill="#1F3C6A" stroke="#0a1630" stroke-width="0.85"/>
<circle cx="64.2" cy="246.97" r="1.5" fill="#1F3C6A" stroke="#0a1630" stroke-width="0.85"/>
<circle cx="66.75" cy="248.03" r="1.5" fill="#1F3C6A" stroke="#0a1630" stroke-width="0.85"/>
<circle cx="61.65" cy="249.1" r="1.5" fill="#1F3C6A" stroke="#0a1630" stroke-width="0.85"/>
<circle cx="64.2" cy="250.17" r="1.5" fill="#1F3C6A" stroke="#0a1630" stroke-width="0.85"/>
<circle cx="66.75" cy="251.77" r="1.5" fill="#1F3C6A" stroke="#0a1630" stroke-width="0.85"/>
<circle cx="64.2" cy="253.05" r="1.5" fill="#1F3C6A" stroke="#0a1630" stroke-width="0.85"/>
<circle cx="76.8" cy="237.74" r="1.5" fill="#4A9C4C" stroke="#0f4014" stroke-width="0.85"/>
<circle cx="79.35" cy="237.9" r="1.5" fill="#4A9C4C" stroke="#0f4014" stroke-width="0.85"/>
<circle cx="74.25" cy="239.23" r="1.5" fill="#4A9C4C" stroke="#0f4014" stroke-width="0.85"/>
<circle cx="76.8" cy="241.85" r="1.5" fill="#4A9C4C" stroke="#0f4014" stroke-width="0.85"/>
<circle cx="79.35" cy="243.77" r="1.5" fill="#4A9C4C" stroke="#0f4014" stroke-width="0.85"/>
<circle cx="74.25" cy="243.87" r="1.5" fill="#4A9C4C" stroke="#0f4014" stroke-width="0.85"/>
<circle cx="76.8" cy="247.98" r="1.5" fill="#4A9C4C" stroke="#0f4014" stroke-width="0.85"/>
<circle cx="79.35" cy="250.01" r="1.5" fill="#4A9C4C" stroke="#0f4014" stroke-width="0.85"/>
<circle cx="76.8" cy="252.62" r="1.5" fill="#4A9C4C" stroke="#0f4014" stroke-width="0.85"/>
<circle cx="89.4" cy="231.61" r="1.5" fill="#DDA445" stroke="#4f3206" stroke-width="0.85"/>
<circle cx="91.95" cy="232.03" r="1.5" fill="#DDA445" stroke="#4f3206" stroke-width="0.85"/>
<circle cx="89.4" cy="236.25" r="1.5" fill="#DDA445" stroke="#4f3206" stroke-width="0.85"/>
<circle cx="89.4" cy="242.33" r="1.5" fill="#DDA445" stroke="#4f3206" stroke-width="0.85"/>
<circle cx="91.95" cy="243.77" r="1.5" fill="#DDA445" stroke="#4f3206" stroke-width="0.85"/>
<circle cx="86.85" cy="243.87" r="1.5" fill="#DDA445" stroke="#4f3206" stroke-width="0.85"/>
<circle cx="89.4" cy="244.03" r="1.5" fill="#DDA445" stroke="#4f3206" stroke-width="0.85"/>
<circle cx="89.4" cy="245.37" r="1.5" fill="#DDA445" stroke="#4f3206" stroke-width="0.85"/>
<circle cx="102" cy="237.42" r="1.5" fill="#A097D0" stroke="#26224a" stroke-width="0.85"/>
<circle cx="103.28" cy="239.71" r="1.5" fill="#A097D0" stroke="#26224a" stroke-width="0.85"/>
<circle cx="100.72" cy="241.85" r="1.5" fill="#A097D0" stroke="#26224a" stroke-width="0.85"/>
<circle cx="102" cy="244.35" r="1.5" fill="#A097D0" stroke="#26224a" stroke-width="0.85"/>
<circle cx="104.55" cy="244.83" r="1.5" fill="#A097D0" stroke="#26224a" stroke-width="0.85"/>
<circle cx="114.6" cy="222.86" r="1.5" fill="#64A8D8" stroke="#0f3452" stroke-width="0.85"/>
<circle cx="114.6" cy="226.01" r="1.5" fill="#64A8D8" stroke="#0f3452" stroke-width="0.85"/>
<circle cx="114.6" cy="228.99" r="1.5" fill="#64A8D8" stroke="#0f3452" stroke-width="0.85"/>
<circle cx="114.6" cy="236.73" r="1.5" fill="#64A8D8" stroke="#0f3452" stroke-width="0.85"/>
<circle cx="115.88" cy="239.23" r="1.5" fill="#64A8D8" stroke="#0f3452" stroke-width="0.85"/>
<circle cx="113.32" cy="239.5" r="1.5" fill="#64A8D8" stroke="#0f3452" stroke-width="0.85"/>
<circle cx="114.6" cy="241.31" r="1.5" fill="#64A8D8" stroke="#0f3452" stroke-width="0.85"/>
<circle cx="114.6" cy="243.87" r="1.5" fill="#64A8D8" stroke="#0f3452" stroke-width="0.85"/>
<path d="M43.4 212.5V295.5H122.6" stroke="#1c1c1c" stroke-width="1" fill="none"/>
<path d="M40.4 295.5H43.4" stroke="#1c1c1c" stroke-width="0.95"/>
<text x="37.3" y="297.7" font-size="6.45" text-anchor="end" fill="#262626">0</text>
<path d="M40.4 268.83H43.4" stroke="#1c1c1c" stroke-width="0.95"/>
<text x="37.3" y="271.03" font-size="6.45" text-anchor="end" fill="#262626">5000</text>
<path d="M40.4 242.17H43.4" stroke="#1c1c1c" stroke-width="0.95"/>
<text x="37.3" y="244.37" font-size="6.45" text-anchor="end" fill="#262626">10000</text>
<path d="M40.4 215.5H43.4" stroke="#1c1c1c" stroke-width="0.95"/>
<text x="37.3" y="217.7" font-size="6.45" text-anchor="end" fill="#262626">15000</text>
<path d="M51.6 295.5V298.4" stroke="#1c1c1c" stroke-width="0.95"/>
<text x="54.5" y="305" font-size="6.4" text-anchor="end" fill="#222" stroke="#222" stroke-width="0.1" transform="rotate(-45 54.5 305)">&lt;32</text>
<path d="M64.2 295.5V298.4" stroke="#1c1c1c" stroke-width="0.95"/>
<text x="67.1" y="305" font-size="6.4" text-anchor="end" fill="#222" stroke="#222" stroke-width="0.1" transform="rotate(-45 67.1 305)">32-36</text>
<path d="M76.8 295.5V298.4" stroke="#1c1c1c" stroke-width="0.95"/>
<text x="79.7" y="305" font-size="6.4" text-anchor="end" fill="#222" stroke="#222" stroke-width="0.1" transform="rotate(-45 79.7 305)">1</text>
<path d="M89.4 295.5V298.4" stroke="#1c1c1c" stroke-width="0.95"/>
<text x="92.3" y="305" font-size="6.4" text-anchor="end" fill="#222" stroke="#222" stroke-width="0.1" transform="rotate(-45 92.3 305)">28d-2a</text>
<path d="M102 295.5V298.4" stroke="#1c1c1c" stroke-width="0.95"/>
<text x="104.9" y="305" font-size="6.4" text-anchor="end" fill="#222" stroke="#222" stroke-width="0.1" transform="rotate(-45 104.9 305)">2-13a</text>
<path d="M114.6 295.5V298.4" stroke="#1c1c1c" stroke-width="0.95"/>
<text x="117.5" y="305" font-size="6.4" text-anchor="end" fill="#222" stroke="#222" stroke-width="0.1" transform="rotate(-45 117.5 305)">&gt;13a</text>
<text x="-18.8" y="0" font-size="7.9" font-weight="normal" fill="#1a1a1a" stroke="#1a1a1a" stroke-width="0.22" textLength="37.6" lengthAdjust="spacingAndGlyphs" transform="translate(13.3 255) rotate(-90)" xml:space="preserve">GeoMFI CD42a</text>
<path d="M53.5 212.1V210.5H115.6V212.1" stroke="#333" stroke-width="0.9" fill="none"/>
<text x="84.7" y="210.85" font-size="6.4" text-anchor="middle" fill="#333" letter-spacing="-0.3">**</text>
<path d="M64.2 219.5V217.9H115.6V219.5" stroke="#333" stroke-width="0.9" fill="none"/>
<text x="90.05" y="218.25" font-size="6.4" text-anchor="middle" fill="#333" letter-spacing="-0.3">*</text>
<text x="141.9" y="177" font-size="11" font-weight="bold" fill="#1a1a1a">F</text>
<text x="214.4" y="183" font-size="8.6" text-anchor="middle" fill="#1a1a1a" stroke="#1a1a1a" stroke-width="0.1">CD42b</text>
<rect x="178.9" y="244.96" width="8.2" height="50.44" fill="#E4887B"/>
<rect x="191.45" y="248.66" width="8.2" height="46.74" fill="#8793BF"/>
<rect x="204" y="240.47" width="8.2" height="54.93" fill="#A8D195"/>
<rect x="216.55" y="232.48" width="8.2" height="62.92" fill="#F9C488"/>
<rect x="229.1" y="239.07" width="8.2" height="56.33" fill="#C4B9DF"/>
<rect x="241.65" y="236.87" width="8.2" height="58.53" fill="#A4CDF0"/>
<path d="M183 220.69V266.14M181.2 220.69H184.8M181.2 266.14H184.8" stroke="#3a1a20" stroke-width="0.85" fill="none"/>
<path d="M195.55 230.18V276.92M193.75 230.18H197.35M193.75 276.92H197.35" stroke="#141c2c" stroke-width="0.85" fill="none"/>
<path d="M208.1 222.19V259.54M206.3 222.19H209.9M206.3 259.54H209.9" stroke="#1c301c" stroke-width="0.85" fill="none"/>
<path d="M220.65 221.49V238.47M218.85 221.49H222.45M218.85 238.47H222.45" stroke="#3c2c10" stroke-width="0.85" fill="none"/>
<path d="M233.2 235.47V254.45M231.4 235.47H235M231.4 254.45H235" stroke="#2a2840" stroke-width="0.85" fill="none"/>
<path d="M245.75 220.99V260.24M243.95 220.99H247.55M243.95 260.24H247.55" stroke="#1a2e40" stroke-width="0.85" fill="none"/>
<circle cx="180.6" cy="220.69" r="1.5" fill="#921C30" stroke="#45050f" stroke-width="0.85"/>
<circle cx="185.4" cy="223.69" r="1.5" fill="#921C30" stroke="#45050f" stroke-width="0.85"/>
<circle cx="183" cy="240.97" r="1.5" fill="#921C30" stroke="#45050f" stroke-width="0.85"/>
<circle cx="183" cy="245.66" r="1.5" fill="#921C30" stroke="#45050f" stroke-width="0.85"/>
<circle cx="183" cy="253.65" r="1.5" fill="#921C30" stroke="#45050f" stroke-width="0.85"/>
<circle cx="183" cy="261.74" r="1.5" fill="#921C30" stroke="#45050f" stroke-width="0.85"/>
<circle cx="183" cy="266.14" r="1.5" fill="#921C30" stroke="#45050f" stroke-width="0.85"/>
<circle cx="195.55" cy="230.18" r="1.5" fill="#1F3C6A" stroke="#0a1630" stroke-width="0.85"/>
<circle cx="195.55" cy="236.47" r="1.5" fill="#1F3C6A" stroke="#0a1630" stroke-width="0.85"/>
<circle cx="195.55" cy="239.47" r="1.5" fill="#1F3C6A" stroke="#0a1630" stroke-width="0.85"/>
<circle cx="198.1" cy="241.47" r="1.5" fill="#1F3C6A" stroke="#0a1630" stroke-width="0.85"/>
<circle cx="195.55" cy="243.46" r="1.5" fill="#1F3C6A" stroke="#0a1630" stroke-width="0.85"/>
<circle cx="198.1" cy="244.46" r="1.5" fill="#1F3C6A" stroke="#0a1630" stroke-width="0.85"/>
<circle cx="193" cy="245.46" r="1.5" fill="#1F3C6A" stroke="#0a1630" stroke-width="0.85"/>
<circle cx="195.55" cy="246.46" r="1.5" fill="#1F3C6A" stroke="#0a1630" stroke-width="0.85"/>
<circle cx="198.1" cy="247.46" r="1.5" fill="#1F3C6A" stroke="#0a1630" stroke-width="0.85"/>
<circle cx="193" cy="248.46" r="1.5" fill="#1F3C6A" stroke="#0a1630" stroke-width="0.85"/>
<circle cx="195.55" cy="249.46" r="1.5" fill="#1F3C6A" stroke="#0a1630" stroke-width="0.85"/>
<circle cx="198.1" cy="250.46" r="1.5" fill="#1F3C6A" stroke="#0a1630" stroke-width="0.85"/>
<circle cx="193" cy="251.45" r="1.5" fill="#1F3C6A" stroke="#0a1630" stroke-width="0.85"/>
<circle cx="195.55" cy="253.45" r="1.5" fill="#1F3C6A" stroke="#0a1630" stroke-width="0.85"/>
<circle cx="198.1" cy="255.45" r="1.5" fill="#1F3C6A" stroke="#0a1630" stroke-width="0.85"/>
<circle cx="195.55" cy="257.45" r="1.5" fill="#1F3C6A" stroke="#0a1630" stroke-width="0.85"/>
<circle cx="198.1" cy="259.44" r="1.5" fill="#1F3C6A" stroke="#0a1630" stroke-width="0.85"/>
<circle cx="195.55" cy="262.44" r="1.5" fill="#1F3C6A" stroke="#0a1630" stroke-width="0.85"/>
<circle cx="195.55" cy="265.44" r="1.5" fill="#1F3C6A" stroke="#0a1630" stroke-width="0.85"/>
<circle cx="195.55" cy="269.43" r="1.5" fill="#1F3C6A" stroke="#0a1630" stroke-width="0.85"/>
<circle cx="195.55" cy="276.92" r="1.5" fill="#1F3C6A" stroke="#0a1630" stroke-width="0.85"/>
<circle cx="210.3" cy="222.19" r="1.5" fill="#4A9C4C" stroke="#0f4014" stroke-width="0.85"/>
<circle cx="205.9" cy="224.39" r="1.5" fill="#4A9C4C" stroke="#0f4014" stroke-width="0.85"/>
<circle cx="209.6" cy="226.49" r="1.5" fill="#4A9C4C" stroke="#0f4014" stroke-width="0.85"/>
<circle cx="205.7" cy="259.54" r="1.5" fill="#4A9C4C" stroke="#0f4014" stroke-width="0.85"/>
<circle cx="208.1" cy="259.54" r="1.5" fill="#4A9C4C" stroke="#0f4014" stroke-width="0.85"/>
<circle cx="210.5" cy="259.54" r="1.5" fill="#4A9C4C" stroke="#0f4014" stroke-width="0.85"/>
<circle cx="208.1" cy="230.98" r="1.5" fill="#4A9C4C" stroke="#0f4014" stroke-width="0.85"/>
<circle cx="208.1" cy="240.47" r="1.5" fill="#4A9C4C" stroke="#0f4014" stroke-width="0.85"/>
<circle cx="208.1" cy="253.65" r="1.5" fill="#4A9C4C" stroke="#0f4014" stroke-width="0.85"/>
<circle cx="218.25" cy="232.38" r="1.5" fill="#DDA445" stroke="#4f3206" stroke-width="0.85"/>
<circle cx="220.65" cy="232.18" r="1.5" fill="#DDA445" stroke="#4f3206" stroke-width="0.85"/>
<circle cx="223.05" cy="232.38" r="1.5" fill="#DDA445" stroke="#4f3206" stroke-width="0.85"/>
<circle cx="220.65" cy="235.57" r="1.5" fill="#DDA445" stroke="#4f3206" stroke-width="0.85"/>
<circle cx="218.65" cy="238.47" r="1.5" fill="#DDA445" stroke="#4f3206" stroke-width="0.85"/>
<circle cx="222.65" cy="238.47" r="1.5" fill="#DDA445" stroke="#4f3206" stroke-width="0.85"/>
<circle cx="220.65" cy="221.49" r="1.5" fill="#DDA445" stroke="#4f3206" stroke-width="0.85"/>
<circle cx="230.9" cy="239.07" r="1.5" fill="#A097D0" stroke="#26224a" stroke-width="0.85"/>
<circle cx="233.2" cy="239.07" r="1.5" fill="#A097D0" stroke="#26224a" stroke-width="0.85"/>
<circle cx="235.5" cy="239.07" r="1.5" fill="#A097D0" stroke="#26224a" stroke-width="0.85"/>
<circle cx="233.2" cy="235.47" r="1.5" fill="#A097D0" stroke="#26224a" stroke-width="0.85"/>
<circle cx="233.2" cy="243.46" r="1.5" fill="#A097D0" stroke="#26224a" stroke-width="0.85"/>
<circle cx="233.2" cy="254.45" r="1.5" fill="#A097D0" stroke="#26224a" stroke-width="0.85"/>
<circle cx="244.15" cy="220.99" r="1.5" fill="#64A8D8" stroke="#0f3452" stroke-width="0.85"/>
<circle cx="247.35" cy="220.99" r="1.5" fill="#64A8D8" stroke="#0f3452" stroke-width="0.85"/>
<circle cx="243.45" cy="234.58" r="1.5" fill="#64A8D8" stroke="#0f3452" stroke-width="0.85"/>
<circle cx="248.05" cy="235.38" r="1.5" fill="#64A8D8" stroke="#0f3452" stroke-width="0.85"/>
<circle cx="245.75" cy="236.17" r="1.5" fill="#64A8D8" stroke="#0f3452" stroke-width="0.85"/>
<circle cx="245.75" cy="244.16" r="1.5" fill="#64A8D8" stroke="#0f3452" stroke-width="0.85"/>
<circle cx="245.75" cy="255.15" r="1.5" fill="#64A8D8" stroke="#0f3452" stroke-width="0.85"/>
<circle cx="245.75" cy="260.24" r="1.5" fill="#64A8D8" stroke="#0f3452" stroke-width="0.85"/>
<path d="M174.5 212.5V295.4H253.75" stroke="#1c1c1c" stroke-width="1" fill="none"/>
<path d="M171.5 295.4H174.5" stroke="#1c1c1c" stroke-width="0.95"/>
<text x="168.4" y="297.6" font-size="6.45" text-anchor="end" fill="#262626">0</text>
<path d="M171.5 275.42H174.5" stroke="#1c1c1c" stroke-width="0.95"/>
<text x="168.4" y="277.62" font-size="6.45" text-anchor="end" fill="#262626">2000</text>
<path d="M171.5 255.45H174.5" stroke="#1c1c1c" stroke-width="0.95"/>
<text x="168.4" y="257.65" font-size="6.45" text-anchor="end" fill="#262626">4000</text>
<path d="M171.5 235.47H174.5" stroke="#1c1c1c" stroke-width="0.95"/>
<text x="168.4" y="237.67" font-size="6.45" text-anchor="end" fill="#262626">6000</text>
<path d="M171.5 215.5H174.5" stroke="#1c1c1c" stroke-width="0.95"/>
<text x="168.4" y="217.7" font-size="6.45" text-anchor="end" fill="#262626">8000</text>
<path d="M183 295.4V298.3" stroke="#1c1c1c" stroke-width="0.95"/>
<text x="185.9" y="304.9" font-size="6.4" text-anchor="end" fill="#222" stroke="#222" stroke-width="0.1" transform="rotate(-45 185.9 304.9)">&lt;32</text>
<path d="M195.55 295.4V298.3" stroke="#1c1c1c" stroke-width="0.95"/>
<text x="198.45" y="304.9" font-size="6.4" text-anchor="end" fill="#222" stroke="#222" stroke-width="0.1" transform="rotate(-45 198.45 304.9)">32-36</text>
<path d="M208.1 295.4V298.3" stroke="#1c1c1c" stroke-width="0.95"/>
<text x="211" y="304.9" font-size="6.4" text-anchor="end" fill="#222" stroke="#222" stroke-width="0.1" transform="rotate(-45 211 304.9)">1</text>
<path d="M220.65 295.4V298.3" stroke="#1c1c1c" stroke-width="0.95"/>
<text x="223.55" y="304.9" font-size="6.4" text-anchor="end" fill="#222" stroke="#222" stroke-width="0.1" transform="rotate(-45 223.55 304.9)">28d-2a</text>
<path d="M233.2 295.4V298.3" stroke="#1c1c1c" stroke-width="0.95"/>
<text x="236.1" y="304.9" font-size="6.4" text-anchor="end" fill="#222" stroke="#222" stroke-width="0.1" transform="rotate(-45 236.1 304.9)">2-13a</text>
<path d="M245.75 295.4V298.3" stroke="#1c1c1c" stroke-width="0.95"/>
<text x="248.65" y="304.9" font-size="6.4" text-anchor="end" fill="#222" stroke="#222" stroke-width="0.1" transform="rotate(-45 248.65 304.9)">&gt;13a</text>
<text x="-19.7" y="0" font-size="7.9" font-weight="normal" fill="#1a1a1a" stroke="#1a1a1a" stroke-width="0.22" textLength="39.4" lengthAdjust="spacingAndGlyphs" transform="translate(148.05 254.7) rotate(-90)" xml:space="preserve">GeoMFI  CD42b</text>
<path d="M195.65 216.2V214.6H221.45V216.2" stroke="#333" stroke-width="0.9" fill="none"/>
<text x="208.7" y="214.95" font-size="6.4" text-anchor="middle" fill="#333" letter-spacing="-0.3">*</text>
<text x="266.1" y="177.2" font-size="11" font-weight="bold" fill="#1a1a1a">G</text>
<text x="342.3" y="183" font-size="8.7" text-anchor="middle" fill="#1a1a1a" stroke="#1a1a1a" stroke-width="0.1">CD49b</text>
<rect x="307.3" y="277.02" width="8.2" height="18.38" fill="#E4887B"/>
<rect x="319.8" y="275.16" width="8.2" height="20.24" fill="#8793BF"/>
<rect x="332.3" y="273.03" width="8.2" height="22.37" fill="#A8D195"/>
<rect x="344.8" y="258.91" width="8.2" height="36.49" fill="#F9C488"/>
<rect x="357.3" y="262.85" width="8.2" height="32.55" fill="#C4B9DF"/>
<rect x="369.8" y="253.32" width="8.2" height="42.08" fill="#A4CDF0"/>
<path d="M311.4 267.54V282.72M309.6 267.54H313.2M309.6 282.72H313.2" stroke="#3a1a20" stroke-width="0.85" fill="none"/>
<path d="M323.9 266.26V282.51M322.1 266.26H325.7M322.1 282.51H325.7" stroke="#141c2c" stroke-width="0.85" fill="none"/>
<path d="M336.4 258.33V283.68M334.6 258.33H338.2M334.6 283.68H338.2" stroke="#1c301c" stroke-width="0.85" fill="none"/>
<path d="M348.9 242.56V280.33M347.1 242.56H350.7M347.1 280.33H350.7" stroke="#3c2c10" stroke-width="0.85" fill="none"/>
<path d="M361.4 252.2V269.57M359.6 252.2H363.2M359.6 269.57H363.2" stroke="#2a2840" stroke-width="0.85" fill="none"/>
<path d="M373.9 240.91V277.56M372.1 240.91H375.7M372.1 277.56H375.7" stroke="#1a2e40" stroke-width="0.85" fill="none"/>
<circle cx="311.4" cy="267.54" r="1.5" fill="#921C30" stroke="#45050f" stroke-width="0.85"/>
<circle cx="311.4" cy="274.63" r="1.5" fill="#921C30" stroke="#45050f" stroke-width="0.85"/>
<circle cx="313.95" cy="275.27" r="1.5" fill="#921C30" stroke="#45050f" stroke-width="0.85"/>
<circle cx="308.85" cy="276.76" r="1.5" fill="#921C30" stroke="#45050f" stroke-width="0.85"/>
<circle cx="311.4" cy="277.02" r="1.5" fill="#921C30" stroke="#45050f" stroke-width="0.85"/>
<circle cx="313.95" cy="279.15" r="1.5" fill="#921C30" stroke="#45050f" stroke-width="0.85"/>
<circle cx="311.4" cy="282.08" r="1.5" fill="#921C30" stroke="#45050f" stroke-width="0.85"/>
<circle cx="313.95" cy="282.35" r="1.5" fill="#921C30" stroke="#45050f" stroke-width="0.85"/>
<circle cx="308.85" cy="282.72" r="1.5" fill="#921C30" stroke="#45050f" stroke-width="0.85"/>
<circle cx="323.9" cy="266.26" r="1.5" fill="#1F3C6A" stroke="#0a1630" stroke-width="0.85"/>
<circle cx="326.45" cy="267.7" r="1.5" fill="#1F3C6A" stroke="#0a1630" stroke-width="0.85"/>
<circle cx="323.9" cy="269.3" r="1.5" fill="#1F3C6A" stroke="#0a1630" stroke-width="0.85"/>
<circle cx="326.45" cy="270.36" r="1.5" fill="#1F3C6A" stroke="#0a1630" stroke-width="0.85"/>
<circle cx="321.35" cy="271.43" r="1.5" fill="#1F3C6A" stroke="#0a1630" stroke-width="0.85"/>
<circle cx="323.9" cy="272.5" r="1.5" fill="#1F3C6A" stroke="#0a1630" stroke-width="0.85"/>
<circle cx="326.45" cy="273.56" r="1.5" fill="#1F3C6A" stroke="#0a1630" stroke-width="0.85"/>
<circle cx="321.35" cy="274.36" r="1.5" fill="#1F3C6A" stroke="#0a1630" stroke-width="0.85"/>
<circle cx="323.9" cy="275.16" r="1.5" fill="#1F3C6A" stroke="#0a1630" stroke-width="0.85"/>
<circle cx="323.9" cy="275.96" r="1.5" fill="#1F3C6A" stroke="#0a1630" stroke-width="0.85"/>
<circle cx="326.45" cy="276.76" r="1.5" fill="#1F3C6A" stroke="#0a1630" stroke-width="0.85"/>
<circle cx="321.35" cy="277.56" r="1.5" fill="#1F3C6A" stroke="#0a1630" stroke-width="0.85"/>
<circle cx="323.9" cy="278.35" r="1.5" fill="#1F3C6A" stroke="#0a1630" stroke-width="0.85"/>
<circle cx="326.45" cy="279.42" r="1.5" fill="#1F3C6A" stroke="#0a1630" stroke-width="0.85"/>
<circle cx="321.35" cy="280.49" r="1.5" fill="#1F3C6A" stroke="#0a1630" stroke-width="0.85"/>
<circle cx="323.9" cy="281.55" r="1.5" fill="#1F3C6A" stroke="#0a1630" stroke-width="0.85"/>
<circle cx="326.45" cy="282.51" r="1.5" fill="#1F3C6A" stroke="#0a1630" stroke-width="0.85"/>
<circle cx="336.4" cy="258.33" r="1.5" fill="#4A9C4C" stroke="#0f4014" stroke-width="0.85"/>
<circle cx="336.4" cy="262.37" r="1.5" fill="#4A9C4C" stroke="#0f4014" stroke-width="0.85"/>
<circle cx="336.4" cy="271.16" r="1.5" fill="#4A9C4C" stroke="#0f4014" stroke-width="0.85"/>
<circle cx="338.95" cy="271.43" r="1.5" fill="#4A9C4C" stroke="#0f4014" stroke-width="0.85"/>
<circle cx="333.85" cy="272.92" r="1.5" fill="#4A9C4C" stroke="#0f4014" stroke-width="0.85"/>
<circle cx="336.4" cy="274.68" r="1.5" fill="#4A9C4C" stroke="#0f4014" stroke-width="0.85"/>
<circle cx="337.67" cy="276.92" r="1.5" fill="#4A9C4C" stroke="#0f4014" stroke-width="0.85"/>
<circle cx="336.4" cy="283.68" r="1.5" fill="#4A9C4C" stroke="#0f4014" stroke-width="0.85"/>
<circle cx="348.9" cy="242.56" r="1.5" fill="#DDA445" stroke="#4f3206" stroke-width="0.85"/>
<circle cx="348.9" cy="251.99" r="1.5" fill="#DDA445" stroke="#4f3206" stroke-width="0.85"/>
<circle cx="351.45" cy="252.52" r="1.5" fill="#DDA445" stroke="#4f3206" stroke-width="0.85"/>
<circle cx="348.9" cy="256.62" r="1.5" fill="#DDA445" stroke="#4f3206" stroke-width="0.85"/>
<circle cx="348.9" cy="260.78" r="1.5" fill="#DDA445" stroke="#4f3206" stroke-width="0.85"/>
<circle cx="351.45" cy="261.1" r="1.5" fill="#DDA445" stroke="#4f3206" stroke-width="0.85"/>
<circle cx="346.35" cy="261.31" r="1.5" fill="#DDA445" stroke="#4f3206" stroke-width="0.85"/>
<circle cx="348.9" cy="275.21" r="1.5" fill="#DDA445" stroke="#4f3206" stroke-width="0.85"/>
<circle cx="348.9" cy="280.33" r="1.5" fill="#DDA445" stroke="#4f3206" stroke-width="0.85"/>
<circle cx="361.4" cy="252.2" r="1.5" fill="#A097D0" stroke="#26224a" stroke-width="0.85"/>
<circle cx="361.4" cy="257.79" r="1.5" fill="#A097D0" stroke="#26224a" stroke-width="0.85"/>
<circle cx="361.4" cy="262.32" r="1.5" fill="#A097D0" stroke="#26224a" stroke-width="0.85"/>
<circle cx="361.4" cy="265.68" r="1.5" fill="#A097D0" stroke="#26224a" stroke-width="0.85"/>
<circle cx="361.4" cy="269.57" r="1.5" fill="#A097D0" stroke="#26224a" stroke-width="0.85"/>
<circle cx="373.9" cy="240.91" r="1.5" fill="#64A8D8" stroke="#0f3452" stroke-width="0.85"/>
<circle cx="376.45" cy="241.07" r="1.5" fill="#64A8D8" stroke="#0f3452" stroke-width="0.85"/>
<circle cx="371.35" cy="242.93" r="1.5" fill="#64A8D8" stroke="#0f3452" stroke-width="0.85"/>
<circle cx="373.9" cy="252.52" r="1.5" fill="#64A8D8" stroke="#0f3452" stroke-width="0.85"/>
<circle cx="376.45" cy="252.79" r="1.5" fill="#64A8D8" stroke="#0f3452" stroke-width="0.85"/>
<circle cx="373.9" cy="265.68" r="1.5" fill="#64A8D8" stroke="#0f3452" stroke-width="0.85"/>
<circle cx="373.9" cy="276.38" r="1.5" fill="#64A8D8" stroke="#0f3452" stroke-width="0.85"/>
<circle cx="376.45" cy="277.56" r="1.5" fill="#64A8D8" stroke="#0f3452" stroke-width="0.85"/>
<path d="M302.6 212.5V295.4H381.9" stroke="#1c1c1c" stroke-width="1" fill="none"/>
<path d="M299.6 295.4H302.6" stroke="#1c1c1c" stroke-width="0.95"/>
<text x="296.5" y="297.6" font-size="6.45" text-anchor="end" fill="#262626">0</text>
<path d="M299.6 268.77H302.6" stroke="#1c1c1c" stroke-width="0.95"/>
<text x="296.5" y="270.97" font-size="6.45" text-anchor="end" fill="#262626">500</text>
<path d="M299.6 242.13H302.6" stroke="#1c1c1c" stroke-width="0.95"/>
<text x="296.5" y="244.33" font-size="6.45" text-anchor="end" fill="#262626">1000</text>
<path d="M299.6 215.5H302.6" stroke="#1c1c1c" stroke-width="0.95"/>
<text x="296.5" y="217.7" font-size="6.45" text-anchor="end" fill="#262626">1500</text>
<path d="M311.4 295.4V298.3" stroke="#1c1c1c" stroke-width="0.95"/>
<text x="314.3" y="304.9" font-size="6.4" text-anchor="end" fill="#222" stroke="#222" stroke-width="0.1" transform="rotate(-45 314.3 304.9)">&lt;32</text>
<path d="M323.9 295.4V298.3" stroke="#1c1c1c" stroke-width="0.95"/>
<text x="326.8" y="304.9" font-size="6.4" text-anchor="end" fill="#222" stroke="#222" stroke-width="0.1" transform="rotate(-45 326.8 304.9)">32-36</text>
<path d="M336.4 295.4V298.3" stroke="#1c1c1c" stroke-width="0.95"/>
<text x="339.3" y="304.9" font-size="6.4" text-anchor="end" fill="#222" stroke="#222" stroke-width="0.1" transform="rotate(-45 339.3 304.9)">1</text>
<path d="M348.9 295.4V298.3" stroke="#1c1c1c" stroke-width="0.95"/>
<text x="351.8" y="304.9" font-size="6.4" text-anchor="end" fill="#222" stroke="#222" stroke-width="0.1" transform="rotate(-45 351.8 304.9)">28d-2a</text>
<path d="M361.4 295.4V298.3" stroke="#1c1c1c" stroke-width="0.95"/>
<text x="364.3" y="304.9" font-size="6.4" text-anchor="end" fill="#222" stroke="#222" stroke-width="0.1" transform="rotate(-45 364.3 304.9)">2-13a</text>
<path d="M373.9 295.4V298.3" stroke="#1c1c1c" stroke-width="0.95"/>
<text x="376.8" y="304.9" font-size="6.4" text-anchor="end" fill="#222" stroke="#222" stroke-width="0.1" transform="rotate(-45 376.8 304.9)">&gt;13a</text>
<text x="-19.25" y="0" font-size="7.9" font-weight="normal" fill="#1a1a1a" stroke="#1a1a1a" stroke-width="0.22" textLength="38.5" lengthAdjust="spacingAndGlyphs" transform="translate(276.25 255.15) rotate(-90)" xml:space="preserve">GeoMFI CD49b</text>
<path d="M311.4 193V191.4H373.9V193" stroke="#333" stroke-width="0.9" fill="none"/>
<text x="342.8" y="191.75" font-size="6.4" text-anchor="middle" fill="#333" letter-spacing="-0.3">**</text>
<path d="M311.4 200.6V199H361.4V200.6" stroke="#333" stroke-width="0.9" fill="none"/>
<text x="336.55" y="199.35" font-size="6.4" text-anchor="middle" fill="#333" letter-spacing="-0.3">*</text>
<path d="M311.4 207.8V206.2H348.9V207.8" stroke="#333" stroke-width="0.9" fill="none"/>
<text x="330.3" y="206.55" font-size="6.4" text-anchor="middle" fill="#333" letter-spacing="-0.3">*</text>
<path d="M323.9 215V213.4H373.9V215" stroke="#333" stroke-width="0.9" fill="none"/>
<text x="349.05" y="213.75" font-size="6.4" text-anchor="middle" fill="#333" letter-spacing="-0.3">**</text>
<path d="M323.9 224.1V222.5H362.4V224.1" stroke="#333" stroke-width="0.9" fill="none"/>
<text x="343.45" y="219.8" font-size="6" text-anchor="middle" fill="#333">ns</text>
<path d="M323.9 231.2V229.6H348.9V231.2" stroke="#333" stroke-width="0.9" fill="none"/>
<text x="336.55" y="229.95" font-size="6.4" text-anchor="middle" fill="#333" letter-spacing="-0.3">*</text>
<text x="397.9" y="177" font-size="11" font-weight="bold" fill="#1a1a1a">H</text>
<text x="473.8" y="183" font-size="8.2" text-anchor="middle" fill="#1a1a1a" stroke="#1a1a1a" stroke-width="0.1">CD49e</text>
<rect x="438" y="269.33" width="8.2" height="26.17" fill="#E4887B"/>
<rect x="450.55" y="267.04" width="8.2" height="28.46" fill="#8793BF"/>
<rect x="463.1" y="261.54" width="8.2" height="33.96" fill="#A8D195"/>
<rect x="475.65" y="258.55" width="8.2" height="36.95" fill="#F9C488"/>
<rect x="488.2" y="250.56" width="8.2" height="44.94" fill="#C4B9DF"/>
<rect x="500.75" y="248.56" width="8.2" height="46.94" fill="#A4CDF0"/>
<path d="M442.1 258.75V278.82M440.3 258.75H443.9M440.3 278.82H443.9" stroke="#3a1a20" stroke-width="0.85" fill="none"/>
<path d="M454.65 261.41V271.83M452.85 261.41H456.45M452.85 271.83H456.45" stroke="#141c2c" stroke-width="0.85" fill="none"/>
<path d="M467.2 255.85V268.93M465.4 255.85H469M465.4 268.93H469" stroke="#1c301c" stroke-width="0.85" fill="none"/>
<path d="M479.75 253.75V263.14M477.95 253.75H481.55M477.95 263.14H481.55" stroke="#3c2c10" stroke-width="0.85" fill="none"/>
<path d="M492.3 237.07V259.74M490.5 237.07H494.1M490.5 259.74H494.1" stroke="#2a2840" stroke-width="0.85" fill="none"/>
<path d="M504.85 237.07V260.24M503.05 237.07H506.65M503.05 260.24H506.65" stroke="#1a2e40" stroke-width="0.85" fill="none"/>
<circle cx="439.7" cy="265.34" r="1.5" fill="#921C30" stroke="#45050f" stroke-width="0.85"/>
<circle cx="440.1" cy="267.73" r="1.5" fill="#921C30" stroke="#45050f" stroke-width="0.85"/>
<circle cx="442.6" cy="268.53" r="1.5" fill="#921C30" stroke="#45050f" stroke-width="0.85"/>
<circle cx="444.6" cy="269.33" r="1.5" fill="#921C30" stroke="#45050f" stroke-width="0.85"/>
<circle cx="441.6" cy="270.73" r="1.5" fill="#921C30" stroke="#45050f" stroke-width="0.85"/>
<circle cx="444.1" cy="271.73" r="1.5" fill="#921C30" stroke="#45050f" stroke-width="0.85"/>
<circle cx="442.1" cy="258.75" r="1.5" fill="#921C30" stroke="#45050f" stroke-width="0.85"/>
<circle cx="442.1" cy="273.73" r="1.5" fill="#921C30" stroke="#45050f" stroke-width="0.85"/>
<circle cx="442.1" cy="278.82" r="1.5" fill="#921C30" stroke="#45050f" stroke-width="0.85"/>
<circle cx="454.65" cy="248.16" r="1.5" fill="#1F3C6A" stroke="#0a1630" stroke-width="0.85"/>
<circle cx="454.65" cy="260.24" r="1.5" fill="#1F3C6A" stroke="#0a1630" stroke-width="0.85"/>
<circle cx="457.2" cy="261.54" r="1.5" fill="#1F3C6A" stroke="#0a1630" stroke-width="0.85"/>
<circle cx="454.65" cy="263.54" r="1.5" fill="#1F3C6A" stroke="#0a1630" stroke-width="0.85"/>
<circle cx="457.2" cy="265.04" r="1.5" fill="#1F3C6A" stroke="#0a1630" stroke-width="0.85"/>
<circle cx="453.38" cy="266.04" r="1.5" fill="#1F3C6A" stroke="#0a1630" stroke-width="0.85"/>
<circle cx="454.65" cy="266.54" r="1.5" fill="#1F3C6A" stroke="#0a1630" stroke-width="0.85"/>
<circle cx="454.65" cy="267.04" r="1.5" fill="#1F3C6A" stroke="#0a1630" stroke-width="0.85"/>
<circle cx="454.65" cy="267.54" r="1.5" fill="#1F3C6A" stroke="#0a1630" stroke-width="0.85"/>
<circle cx="457.2" cy="268.03" r="1.5" fill="#1F3C6A" stroke="#0a1630" stroke-width="0.85"/>
<circle cx="452.1" cy="268.53" r="1.5" fill="#1F3C6A" stroke="#0a1630" stroke-width="0.85"/>
<circle cx="454.65" cy="269.03" r="1.5" fill="#1F3C6A" stroke="#0a1630" stroke-width="0.85"/>
<circle cx="454.65" cy="269.53" r="1.5" fill="#1F3C6A" stroke="#0a1630" stroke-width="0.85"/>
<circle cx="454.65" cy="270.03" r="1.5" fill="#1F3C6A" stroke="#0a1630" stroke-width="0.85"/>
<circle cx="454.65" cy="270.53" r="1.5" fill="#1F3C6A" stroke="#0a1630" stroke-width="0.85"/>
<circle cx="457.2" cy="271.03" r="1.5" fill="#1F3C6A" stroke="#0a1630" stroke-width="0.85"/>
<circle cx="452.1" cy="271.53" r="1.5" fill="#1F3C6A" stroke="#0a1630" stroke-width="0.85"/>
<circle cx="454.65" cy="271.83" r="1.5" fill="#1F3C6A" stroke="#0a1630" stroke-width="0.85"/>
<circle cx="467.2" cy="255.85" r="1.5" fill="#4A9C4C" stroke="#0f4014" stroke-width="0.85"/>
<circle cx="469.75" cy="257.05" r="1.5" fill="#4A9C4C" stroke="#0f4014" stroke-width="0.85"/>
<circle cx="467.2" cy="258.55" r="1.5" fill="#4A9C4C" stroke="#0f4014" stroke-width="0.85"/>
<circle cx="464.65" cy="259.55" r="1.5" fill="#4A9C4C" stroke="#0f4014" stroke-width="0.85"/>
<circle cx="469.75" cy="260.54" r="1.5" fill="#4A9C4C" stroke="#0f4014" stroke-width="0.85"/>
<circle cx="467.2" cy="261.54" r="1.5" fill="#4A9C4C" stroke="#0f4014" stroke-width="0.85"/>
<circle cx="464.65" cy="262.54" r="1.5" fill="#4A9C4C" stroke="#0f4014" stroke-width="0.85"/>
<circle cx="469.75" cy="263.54" r="1.5" fill="#4A9C4C" stroke="#0f4014" stroke-width="0.85"/>
<circle cx="467.2" cy="265.54" r="1.5" fill="#4A9C4C" stroke="#0f4014" stroke-width="0.85"/>
<circle cx="469.75" cy="267.54" r="1.5" fill="#4A9C4C" stroke="#0f4014" stroke-width="0.85"/>
<circle cx="467.2" cy="268.93" r="1.5" fill="#4A9C4C" stroke="#0f4014" stroke-width="0.85"/>
<circle cx="479.75" cy="253.75" r="1.5" fill="#DDA445" stroke="#4f3206" stroke-width="0.85"/>
<circle cx="482.3" cy="254.05" r="1.5" fill="#DDA445" stroke="#4f3206" stroke-width="0.85"/>
<circle cx="477.2" cy="254.35" r="1.5" fill="#DDA445" stroke="#4f3206" stroke-width="0.85"/>
<circle cx="479.75" cy="256.55" r="1.5" fill="#DDA445" stroke="#4f3206" stroke-width="0.85"/>
<circle cx="482.3" cy="257.05" r="1.5" fill="#DDA445" stroke="#4f3206" stroke-width="0.85"/>
<circle cx="477.2" cy="257.55" r="1.5" fill="#DDA445" stroke="#4f3206" stroke-width="0.85"/>
<circle cx="479.75" cy="260.04" r="1.5" fill="#DDA445" stroke="#4f3206" stroke-width="0.85"/>
<circle cx="482.3" cy="260.54" r="1.5" fill="#DDA445" stroke="#4f3206" stroke-width="0.85"/>
<circle cx="477.2" cy="261.04" r="1.5" fill="#DDA445" stroke="#4f3206" stroke-width="0.85"/>
<circle cx="479.75" cy="262.54" r="1.5" fill="#DDA445" stroke="#4f3206" stroke-width="0.85"/>
<circle cx="482.3" cy="263.14" r="1.5" fill="#DDA445" stroke="#4f3206" stroke-width="0.85"/>
<circle cx="492.3" cy="237.07" r="1.5" fill="#A097D0" stroke="#26224a" stroke-width="0.85"/>
<circle cx="492.3" cy="244.26" r="1.5" fill="#A097D0" stroke="#26224a" stroke-width="0.85"/>
<circle cx="492.3" cy="250.06" r="1.5" fill="#A097D0" stroke="#26224a" stroke-width="0.85"/>
<circle cx="492.3" cy="259.05" r="1.5" fill="#A097D0" stroke="#26224a" stroke-width="0.85"/>
<circle cx="494.85" cy="259.45" r="1.5" fill="#A097D0" stroke="#26224a" stroke-width="0.85"/>
<circle cx="489.75" cy="259.74" r="1.5" fill="#A097D0" stroke="#26224a" stroke-width="0.85"/>
<circle cx="503.25" cy="237.07" r="1.5" fill="#64A8D8" stroke="#0f3452" stroke-width="0.85"/>
<circle cx="506.45" cy="240.57" r="1.5" fill="#64A8D8" stroke="#0f3452" stroke-width="0.85"/>
<circle cx="504.85" cy="244.96" r="1.5" fill="#64A8D8" stroke="#0f3452" stroke-width="0.85"/>
<circle cx="503.05" cy="247.86" r="1.5" fill="#64A8D8" stroke="#0f3452" stroke-width="0.85"/>
<circle cx="506.65" cy="249.36" r="1.5" fill="#64A8D8" stroke="#0f3452" stroke-width="0.85"/>
<circle cx="505.35" cy="252.25" r="1.5" fill="#64A8D8" stroke="#0f3452" stroke-width="0.85"/>
<circle cx="504.85" cy="255.05" r="1.5" fill="#64A8D8" stroke="#0f3452" stroke-width="0.85"/>
<circle cx="504.85" cy="260.24" r="1.5" fill="#64A8D8" stroke="#0f3452" stroke-width="0.85"/>
<path d="M433.6 212.6V295.5H512.85" stroke="#1c1c1c" stroke-width="1" fill="none"/>
<path d="M430.6 295.5H433.6" stroke="#1c1c1c" stroke-width="0.95"/>
<text x="427.5" y="297.7" font-size="6.45" text-anchor="end" fill="#262626">0</text>
<path d="M430.6 275.52H433.6" stroke="#1c1c1c" stroke-width="0.95"/>
<text x="427.5" y="277.72" font-size="6.45" text-anchor="end" fill="#262626">200</text>
<path d="M430.6 255.55H433.6" stroke="#1c1c1c" stroke-width="0.95"/>
<text x="427.5" y="257.75" font-size="6.45" text-anchor="end" fill="#262626">400</text>
<path d="M430.6 235.57H433.6" stroke="#1c1c1c" stroke-width="0.95"/>
<text x="427.5" y="237.77" font-size="6.45" text-anchor="end" fill="#262626">600</text>
<path d="M430.6 215.6H433.6" stroke="#1c1c1c" stroke-width="0.95"/>
<text x="427.5" y="217.8" font-size="6.45" text-anchor="end" fill="#262626">800</text>
<path d="M442.1 295.5V298.4" stroke="#1c1c1c" stroke-width="0.95"/>
<text x="445" y="305" font-size="6.4" text-anchor="end" fill="#222" stroke="#222" stroke-width="0.1" transform="rotate(-45 445 305)">&lt;32</text>
<path d="M454.65 295.5V298.4" stroke="#1c1c1c" stroke-width="0.95"/>
<text x="457.55" y="305" font-size="6.4" text-anchor="end" fill="#222" stroke="#222" stroke-width="0.1" transform="rotate(-45 457.55 305)">32-36</text>
<path d="M467.2 295.5V298.4" stroke="#1c1c1c" stroke-width="0.95"/>
<text x="470.1" y="305" font-size="6.4" text-anchor="end" fill="#222" stroke="#222" stroke-width="0.1" transform="rotate(-45 470.1 305)">1</text>
<path d="M479.75 295.5V298.4" stroke="#1c1c1c" stroke-width="0.95"/>
<text x="482.65" y="305" font-size="6.4" text-anchor="end" fill="#222" stroke="#222" stroke-width="0.1" transform="rotate(-45 482.65 305)">28d-2a</text>
<path d="M492.3 295.5V298.4" stroke="#1c1c1c" stroke-width="0.95"/>
<text x="495.2" y="305" font-size="6.4" text-anchor="end" fill="#222" stroke="#222" stroke-width="0.1" transform="rotate(-45 495.2 305)">2-13a</text>
<path d="M504.85 295.5V298.4" stroke="#1c1c1c" stroke-width="0.95"/>
<text x="507.75" y="305" font-size="6.4" text-anchor="end" fill="#222" stroke="#222" stroke-width="0.1" transform="rotate(-45 507.75 305)">&gt;13a</text>
<text x="-19" y="0" font-size="7.9" font-weight="normal" fill="#1a1a1a" stroke="#1a1a1a" stroke-width="0.22" textLength="38" lengthAdjust="spacingAndGlyphs" transform="translate(411.2 255.4) rotate(-90)" xml:space="preserve">GeoMFI CD49e</text>
<path d="M443.1 197.9V196.3H504.85V197.9" stroke="#333" stroke-width="0.9" fill="none"/>
<text x="474.12" y="196.65" font-size="6.4" text-anchor="middle" fill="#333" letter-spacing="-0.3">***</text>
<path d="M443.1 205.1V203.5H492.3V205.1" stroke="#333" stroke-width="0.9" fill="none"/>
<text x="467.85" y="203.85" font-size="6.4" text-anchor="middle" fill="#333" letter-spacing="-0.3">**</text>
<path d="M443.1 212.1V210.5H479.75V212.1" stroke="#333" stroke-width="0.9" fill="none"/>
<text x="461.57" y="210.85" font-size="6.4" text-anchor="middle" fill="#333" letter-spacing="-0.3">*</text>
<path d="M454.65 219V217.4H505.85V219" stroke="#333" stroke-width="0.9" fill="none"/>
<text x="480.4" y="217.75" font-size="6.4" text-anchor="middle" fill="#333" letter-spacing="-0.3">***</text>
<path d="M454.65 226.2V224.6H493.3V226.2" stroke="#333" stroke-width="0.9" fill="none"/>
<text x="474.12" y="224.95" font-size="6.4" text-anchor="middle" fill="#333" letter-spacing="-0.3">**</text>
<path d="M454.65 233.5V231.9H479.75V233.5" stroke="#333" stroke-width="0.9" fill="none"/>
<text x="467.35" y="232.25" font-size="6.4" text-anchor="middle" fill="#333" letter-spacing="-0.3">*</text>
<text x="141.9" y="343.5" font-size="10" font-weight="bold" fill="#1a1a1a">I</text>
<text x="214.3" y="349.6" font-size="8.5" text-anchor="middle" fill="#1a1a1a" stroke="#1a1a1a" stroke-width="0.1">CD49f</text>
<rect x="178.8" y="433.7" width="8.2" height="26.6" fill="#E4887B"/>
<rect x="191.35" y="427.05" width="8.2" height="33.25" fill="#8793BF"/>
<rect x="203.9" y="428.91" width="8.2" height="31.39" fill="#A8D195"/>
<rect x="216.45" y="418.27" width="8.2" height="42.03" fill="#F9C488"/>
<rect x="229" y="414.81" width="8.2" height="45.49" fill="#C4B9DF"/>
<rect x="241.55" y="413.75" width="8.2" height="46.55" fill="#A4CDF0"/>
<path d="M182.9 418.54V442.08M181.1 418.54H184.7M181.1 442.08H184.7" stroke="#3a1a20" stroke-width="0.85" fill="none"/>
<path d="M195.45 419.47V434.63M193.65 419.47H197.25M193.65 434.63H197.25" stroke="#141c2c" stroke-width="0.85" fill="none"/>
<path d="M208 421.46V437.96M206.2 421.46H209.8M206.2 437.96H209.8" stroke="#1c301c" stroke-width="0.85" fill="none"/>
<path d="M220.55 410.4V427.61M218.75 410.4H222.35M218.75 427.61H222.35" stroke="#3c2c10" stroke-width="0.85" fill="none"/>
<path d="M233.1 402.05V425.88M231.3 402.05H234.9M231.3 425.88H234.9" stroke="#2a2840" stroke-width="0.85" fill="none"/>
<path d="M245.65 405.24V420.93M243.85 405.24H247.45M243.85 420.93H247.45" stroke="#1a2e40" stroke-width="0.85" fill="none"/>
<circle cx="182.9" cy="429.1" r="1.5" fill="#921C30" stroke="#45050f" stroke-width="0.85"/>
<circle cx="185.2" cy="429.18" r="1.5" fill="#921C30" stroke="#45050f" stroke-width="0.85"/>
<circle cx="180.4" cy="433.94" r="1.5" fill="#921C30" stroke="#45050f" stroke-width="0.85"/>
<circle cx="182.9" cy="433.83" r="1.5" fill="#921C30" stroke="#45050f" stroke-width="0.85"/>
<circle cx="185.4" cy="433.97" r="1.5" fill="#921C30" stroke="#45050f" stroke-width="0.85"/>
<circle cx="182.9" cy="418.54" r="1.5" fill="#921C30" stroke="#45050f" stroke-width="0.85"/>
<circle cx="182.9" cy="442.08" r="1.5" fill="#921C30" stroke="#45050f" stroke-width="0.85"/>
<circle cx="195.45" cy="406.75" r="1.5" fill="#1F3C6A" stroke="#0a1630" stroke-width="0.85"/>
<circle cx="195.45" cy="417.02" r="1.5" fill="#1F3C6A" stroke="#0a1630" stroke-width="0.85"/>
<circle cx="198" cy="418.27" r="1.5" fill="#1F3C6A" stroke="#0a1630" stroke-width="0.85"/>
<circle cx="195.45" cy="419.87" r="1.5" fill="#1F3C6A" stroke="#0a1630" stroke-width="0.85"/>
<circle cx="198" cy="421.46" r="1.5" fill="#1F3C6A" stroke="#0a1630" stroke-width="0.85"/>
<circle cx="195.45" cy="423.06" r="1.5" fill="#1F3C6A" stroke="#0a1630" stroke-width="0.85"/>
<circle cx="198" cy="424.66" r="1.5" fill="#1F3C6A" stroke="#0a1630" stroke-width="0.85"/>
<circle cx="195.45" cy="426.25" r="1.5" fill="#1F3C6A" stroke="#0a1630" stroke-width="0.85"/>
<circle cx="198" cy="427.32" r="1.5" fill="#1F3C6A" stroke="#0a1630" stroke-width="0.85"/>
<circle cx="192.9" cy="428.38" r="1.5" fill="#1F3C6A" stroke="#0a1630" stroke-width="0.85"/>
<circle cx="195.45" cy="428.91" r="1.5" fill="#1F3C6A" stroke="#0a1630" stroke-width="0.85"/>
<circle cx="195.45" cy="429.71" r="1.5" fill="#1F3C6A" stroke="#0a1630" stroke-width="0.85"/>
<circle cx="198" cy="431.04" r="1.5" fill="#1F3C6A" stroke="#0a1630" stroke-width="0.85"/>
<circle cx="195.45" cy="432.37" r="1.5" fill="#1F3C6A" stroke="#0a1630" stroke-width="0.85"/>
<circle cx="198" cy="433.7" r="1.5" fill="#1F3C6A" stroke="#0a1630" stroke-width="0.85"/>
<circle cx="195.45" cy="435.03" r="1.5" fill="#1F3C6A" stroke="#0a1630" stroke-width="0.85"/>
<circle cx="192.9" cy="436.15" r="1.5" fill="#1F3C6A" stroke="#0a1630" stroke-width="0.85"/>
<circle cx="208" cy="421.46" r="1.5" fill="#4A9C4C" stroke="#0f4014" stroke-width="0.85"/>
<circle cx="210.55" cy="422.53" r="1.5" fill="#4A9C4C" stroke="#0f4014" stroke-width="0.85"/>
<circle cx="205.45" cy="423.59" r="1.5" fill="#4A9C4C" stroke="#0f4014" stroke-width="0.85"/>
<circle cx="208" cy="424.66" r="1.5" fill="#4A9C4C" stroke="#0f4014" stroke-width="0.85"/>
<circle cx="210.55" cy="425.72" r="1.5" fill="#4A9C4C" stroke="#0f4014" stroke-width="0.85"/>
<circle cx="205.45" cy="426.78" r="1.5" fill="#4A9C4C" stroke="#0f4014" stroke-width="0.85"/>
<circle cx="208" cy="427.85" r="1.5" fill="#4A9C4C" stroke="#0f4014" stroke-width="0.85"/>
<circle cx="210.55" cy="428.91" r="1.5" fill="#4A9C4C" stroke="#0f4014" stroke-width="0.85"/>
<circle cx="205.45" cy="429.98" r="1.5" fill="#4A9C4C" stroke="#0f4014" stroke-width="0.85"/>
<circle cx="208" cy="431.01" r="1.5" fill="#4A9C4C" stroke="#0f4014" stroke-width="0.85"/>
<circle cx="208" cy="437.96" r="1.5" fill="#4A9C4C" stroke="#0f4014" stroke-width="0.85"/>
<circle cx="220.55" cy="410.4" r="1.5" fill="#DDA445" stroke="#4f3206" stroke-width="0.85"/>
<circle cx="223.1" cy="410.82" r="1.5" fill="#DDA445" stroke="#4f3206" stroke-width="0.85"/>
<circle cx="220.55" cy="413.75" r="1.5" fill="#DDA445" stroke="#4f3206" stroke-width="0.85"/>
<circle cx="223.1" cy="415.08" r="1.5" fill="#DDA445" stroke="#4f3206" stroke-width="0.85"/>
<circle cx="220.55" cy="416.41" r="1.5" fill="#DDA445" stroke="#4f3206" stroke-width="0.85"/>
<circle cx="223.1" cy="417.74" r="1.5" fill="#DDA445" stroke="#4f3206" stroke-width="0.85"/>
<circle cx="219.28" cy="418.8" r="1.5" fill="#DDA445" stroke="#4f3206" stroke-width="0.85"/>
<circle cx="221.83" cy="420.4" r="1.5" fill="#DDA445" stroke="#4f3206" stroke-width="0.85"/>
<circle cx="220.55" cy="423.06" r="1.5" fill="#DDA445" stroke="#4f3206" stroke-width="0.85"/>
<circle cx="220.55" cy="427.61" r="1.5" fill="#DDA445" stroke="#4f3206" stroke-width="0.85"/>
<circle cx="233.1" cy="402.05" r="1.5" fill="#A097D0" stroke="#26224a" stroke-width="0.85"/>
<circle cx="233.1" cy="407.47" r="1.5" fill="#A097D0" stroke="#26224a" stroke-width="0.85"/>
<circle cx="233.1" cy="414.1" r="1.5" fill="#A097D0" stroke="#26224a" stroke-width="0.85"/>
<circle cx="233.1" cy="421.46" r="1.5" fill="#A097D0" stroke="#26224a" stroke-width="0.85"/>
<circle cx="233.1" cy="425.88" r="1.5" fill="#A097D0" stroke="#26224a" stroke-width="0.85"/>
<circle cx="244.05" cy="405.24" r="1.5" fill="#64A8D8" stroke="#0f3452" stroke-width="0.85"/>
<circle cx="247.25" cy="405.5" r="1.5" fill="#64A8D8" stroke="#0f3452" stroke-width="0.85"/>
<circle cx="245.65" cy="408.43" r="1.5" fill="#64A8D8" stroke="#0f3452" stroke-width="0.85"/>
<circle cx="243.75" cy="411.09" r="1.5" fill="#64A8D8" stroke="#0f3452" stroke-width="0.85"/>
<circle cx="247.55" cy="411.89" r="1.5" fill="#64A8D8" stroke="#0f3452" stroke-width="0.85"/>
<circle cx="245.65" cy="415.08" r="1.5" fill="#64A8D8" stroke="#0f3452" stroke-width="0.85"/>
<circle cx="247.55" cy="417.74" r="1.5" fill="#64A8D8" stroke="#0f3452" stroke-width="0.85"/>
<circle cx="244.05" cy="420.93" r="1.5" fill="#64A8D8" stroke="#0f3452" stroke-width="0.85"/>
<path d="M174.5 377.5V460.3H253.65" stroke="#1c1c1c" stroke-width="1" fill="none"/>
<path d="M171.5 460.3H174.5" stroke="#1c1c1c" stroke-width="0.95"/>
<text x="168.4" y="462.5" font-size="6.45" text-anchor="end" fill="#262626">0</text>
<path d="M171.5 433.7H174.5" stroke="#1c1c1c" stroke-width="0.95"/>
<text x="168.4" y="435.9" font-size="6.45" text-anchor="end" fill="#262626">1000</text>
<path d="M171.5 407.1H174.5" stroke="#1c1c1c" stroke-width="0.95"/>
<text x="168.4" y="409.3" font-size="6.45" text-anchor="end" fill="#262626">2000</text>
<path d="M171.5 380.5H174.5" stroke="#1c1c1c" stroke-width="0.95"/>
<text x="168.4" y="382.7" font-size="6.45" text-anchor="end" fill="#262626">3000</text>
<path d="M182.9 460.3V463.2" stroke="#1c1c1c" stroke-width="0.95"/>
<text x="185.8" y="469.8" font-size="6.4" text-anchor="end" fill="#222" stroke="#222" stroke-width="0.1" transform="rotate(-45 185.8 469.8)">&lt;32</text>
<path d="M195.45 460.3V463.2" stroke="#1c1c1c" stroke-width="0.95"/>
<text x="198.35" y="469.8" font-size="6.4" text-anchor="end" fill="#222" stroke="#222" stroke-width="0.1" transform="rotate(-45 198.35 469.8)">32-36</text>
<path d="M208 460.3V463.2" stroke="#1c1c1c" stroke-width="0.95"/>
<text x="210.9" y="469.8" font-size="6.4" text-anchor="end" fill="#222" stroke="#222" stroke-width="0.1" transform="rotate(-45 210.9 469.8)">1</text>
<path d="M220.55 460.3V463.2" stroke="#1c1c1c" stroke-width="0.95"/>
<text x="223.45" y="469.8" font-size="6.4" text-anchor="end" fill="#222" stroke="#222" stroke-width="0.1" transform="rotate(-45 223.45 469.8)">28d-2a</text>
<path d="M233.1 460.3V463.2" stroke="#1c1c1c" stroke-width="0.95"/>
<text x="236" y="469.8" font-size="6.4" text-anchor="end" fill="#222" stroke="#222" stroke-width="0.1" transform="rotate(-45 236 469.8)">2-13a</text>
<path d="M245.65 460.3V463.2" stroke="#1c1c1c" stroke-width="0.95"/>
<text x="248.55" y="469.8" font-size="6.4" text-anchor="end" fill="#222" stroke="#222" stroke-width="0.1" transform="rotate(-45 248.55 469.8)">&gt;13a</text>
<text x="-18.75" y="0" font-size="7.9" font-weight="normal" fill="#1a1a1a" stroke="#1a1a1a" stroke-width="0.22" textLength="37.5" lengthAdjust="spacingAndGlyphs" transform="translate(148.45 420.65) rotate(-90)" xml:space="preserve">GeoMFI CD49f</text>
<path d="M184 367.1V365.5H245.95V367.1" stroke="#333" stroke-width="0.9" fill="none"/>
<text x="215.13" y="365.85" font-size="6.4" text-anchor="middle" fill="#333" letter-spacing="-0.3">**</text>
<path d="M184 374.8V373.2H233.1V374.8" stroke="#333" stroke-width="0.9" fill="none"/>
<text x="208.7" y="373.55" font-size="6.4" text-anchor="middle" fill="#333" letter-spacing="-0.3">*</text>
<path d="M184 381.7V380.1H220.55V381.7" stroke="#333" stroke-width="0.9" fill="none"/>
<text x="202.43" y="380.45" font-size="6.4" text-anchor="middle" fill="#333" letter-spacing="-0.3">*</text>
<path d="M195.45 389V387.4H246.85V389" stroke="#333" stroke-width="0.9" fill="none"/>
<text x="221.3" y="387.75" font-size="6.4" text-anchor="middle" fill="#333" letter-spacing="-0.3">**</text>
<path d="M210.2 396.1V394.5H246.85V396.1" stroke="#333" stroke-width="0.9" fill="none"/>
<text x="228.67" y="394.85" font-size="6.4" text-anchor="middle" fill="#333" letter-spacing="-0.3">*</text>
<text x="265.8" y="343.6" font-size="10.2" font-weight="bold" fill="#1a1a1a">J</text>
<text x="342.3" y="349.5" font-size="8.5" text-anchor="middle" fill="#1a1a1a" stroke="#1a1a1a" stroke-width="0.1">CD29</text>
<rect x="306.7" y="432.53" width="8.2" height="27.77" fill="#E4887B"/>
<rect x="319.3" y="425.19" width="8.2" height="35.11" fill="#8793BF"/>
<rect x="331.9" y="423.59" width="8.2" height="36.71" fill="#A8D195"/>
<rect x="344.5" y="410.82" width="8.2" height="49.48" fill="#F9C488"/>
<rect x="357.1" y="414.97" width="8.2" height="45.33" fill="#C4B9DF"/>
<rect x="369.7" y="413.7" width="8.2" height="46.6" fill="#A4CDF0"/>
<path d="M310.8 416.44V436.2M309 416.44H312.6M309 436.2H312.6" stroke="#3a1a20" stroke-width="0.85" fill="none"/>
<path d="M323.4 412.83V437.7M321.6 412.83H325.2M321.6 437.7H325.2" stroke="#141c2c" stroke-width="0.85" fill="none"/>
<path d="M336 409.42V429.69M334.2 409.42H337.8M334.2 429.69H337.8" stroke="#1c301c" stroke-width="0.85" fill="none"/>
<path d="M348.6 402.01V423.05M346.8 402.01H350.4M346.8 423.05H350.4" stroke="#3c2c10" stroke-width="0.85" fill="none"/>
<path d="M361.2 406.2V414.97M359.4 406.2H363M359.4 414.97H363" stroke="#2a2840" stroke-width="0.85" fill="none"/>
<path d="M373.8 397.35V420.85M372 397.35H375.6M372 420.85H375.6" stroke="#1a2e40" stroke-width="0.85" fill="none"/>
<circle cx="312.8" cy="430.39" r="1.5" fill="#921C30" stroke="#45050f" stroke-width="0.85"/>
<circle cx="308.8" cy="432.59" r="1.5" fill="#921C30" stroke="#45050f" stroke-width="0.85"/>
<circle cx="312.8" cy="432.53" r="1.5" fill="#921C30" stroke="#45050f" stroke-width="0.85"/>
<circle cx="308.3" cy="434.76" r="1.5" fill="#921C30" stroke="#45050f" stroke-width="0.85"/>
<circle cx="310.8" cy="434.8" r="1.5" fill="#921C30" stroke="#45050f" stroke-width="0.85"/>
<circle cx="313.3" cy="434.83" r="1.5" fill="#921C30" stroke="#45050f" stroke-width="0.85"/>
<circle cx="310.8" cy="416.44" r="1.5" fill="#921C30" stroke="#45050f" stroke-width="0.85"/>
<circle cx="310.8" cy="424.45" r="1.5" fill="#921C30" stroke="#45050f" stroke-width="0.85"/>
<circle cx="310.8" cy="436.2" r="1.5" fill="#921C30" stroke="#45050f" stroke-width="0.85"/>
<circle cx="323.4" cy="412.83" r="1.5" fill="#1F3C6A" stroke="#0a1630" stroke-width="0.85"/>
<circle cx="325.95" cy="414.34" r="1.5" fill="#1F3C6A" stroke="#0a1630" stroke-width="0.85"/>
<circle cx="323.4" cy="415.93" r="1.5" fill="#1F3C6A" stroke="#0a1630" stroke-width="0.85"/>
<circle cx="325.95" cy="417.53" r="1.5" fill="#1F3C6A" stroke="#0a1630" stroke-width="0.85"/>
<circle cx="323.4" cy="419.12" r="1.5" fill="#1F3C6A" stroke="#0a1630" stroke-width="0.85"/>
<circle cx="325.95" cy="420.72" r="1.5" fill="#1F3C6A" stroke="#0a1630" stroke-width="0.85"/>
<circle cx="323.4" cy="422.32" r="1.5" fill="#1F3C6A" stroke="#0a1630" stroke-width="0.85"/>
<circle cx="325.95" cy="423.59" r="1.5" fill="#1F3C6A" stroke="#0a1630" stroke-width="0.85"/>
<circle cx="323.4" cy="424.87" r="1.5" fill="#1F3C6A" stroke="#0a1630" stroke-width="0.85"/>
<circle cx="325.95" cy="426.15" r="1.5" fill="#1F3C6A" stroke="#0a1630" stroke-width="0.85"/>
<circle cx="323.4" cy="427.42" r="1.5" fill="#1F3C6A" stroke="#0a1630" stroke-width="0.85"/>
<circle cx="325.95" cy="428.7" r="1.5" fill="#1F3C6A" stroke="#0a1630" stroke-width="0.85"/>
<circle cx="323.4" cy="429.98" r="1.5" fill="#1F3C6A" stroke="#0a1630" stroke-width="0.85"/>
<circle cx="325.95" cy="431.57" r="1.5" fill="#1F3C6A" stroke="#0a1630" stroke-width="0.85"/>
<circle cx="323.4" cy="433.17" r="1.5" fill="#1F3C6A" stroke="#0a1630" stroke-width="0.85"/>
<circle cx="325.95" cy="434.76" r="1.5" fill="#1F3C6A" stroke="#0a1630" stroke-width="0.85"/>
<circle cx="323.4" cy="436.36" r="1.5" fill="#1F3C6A" stroke="#0a1630" stroke-width="0.85"/>
<circle cx="325.95" cy="437.7" r="1.5" fill="#1F3C6A" stroke="#0a1630" stroke-width="0.85"/>
<circle cx="337.8" cy="417.14" r="1.5" fill="#4A9C4C" stroke="#0f4014" stroke-width="0.85"/>
<circle cx="334.2" cy="419.35" r="1.5" fill="#4A9C4C" stroke="#0f4014" stroke-width="0.85"/>
<circle cx="336" cy="409.42" r="1.5" fill="#4A9C4C" stroke="#0f4014" stroke-width="0.85"/>
<circle cx="336" cy="422.35" r="1.5" fill="#4A9C4C" stroke="#0f4014" stroke-width="0.85"/>
<circle cx="338.55" cy="423.59" r="1.5" fill="#4A9C4C" stroke="#0f4014" stroke-width="0.85"/>
<circle cx="333.45" cy="424.55" r="1.5" fill="#4A9C4C" stroke="#0f4014" stroke-width="0.85"/>
<circle cx="336" cy="425.83" r="1.5" fill="#4A9C4C" stroke="#0f4014" stroke-width="0.85"/>
<circle cx="338.55" cy="427.1" r="1.5" fill="#4A9C4C" stroke="#0f4014" stroke-width="0.85"/>
<circle cx="336" cy="428.38" r="1.5" fill="#4A9C4C" stroke="#0f4014" stroke-width="0.85"/>
<circle cx="338.55" cy="429.69" r="1.5" fill="#4A9C4C" stroke="#0f4014" stroke-width="0.85"/>
<circle cx="346.1" cy="402.08" r="1.5" fill="#DDA445" stroke="#4f3206" stroke-width="0.85"/>
<circle cx="348.6" cy="402.01" r="1.5" fill="#DDA445" stroke="#4f3206" stroke-width="0.85"/>
<circle cx="351.1" cy="402.08" r="1.5" fill="#DDA445" stroke="#4f3206" stroke-width="0.85"/>
<circle cx="346.6" cy="416.44" r="1.5" fill="#DDA445" stroke="#4f3206" stroke-width="0.85"/>
<circle cx="350.6" cy="416.44" r="1.5" fill="#DDA445" stroke="#4f3206" stroke-width="0.85"/>
<circle cx="348.6" cy="404.7" r="1.5" fill="#DDA445" stroke="#4f3206" stroke-width="0.85"/>
<circle cx="348.6" cy="412.01" r="1.5" fill="#DDA445" stroke="#4f3206" stroke-width="0.85"/>
<circle cx="348.6" cy="423.05" r="1.5" fill="#DDA445" stroke="#4f3206" stroke-width="0.85"/>
<circle cx="363" cy="409.8" r="1.5" fill="#A097D0" stroke="#26224a" stroke-width="0.85"/>
<circle cx="359.4" cy="412.01" r="1.5" fill="#A097D0" stroke="#26224a" stroke-width="0.85"/>
<circle cx="361.7" cy="414.24" r="1.5" fill="#A097D0" stroke="#26224a" stroke-width="0.85"/>
<circle cx="358.9" cy="414.97" r="1.5" fill="#A097D0" stroke="#26224a" stroke-width="0.85"/>
<circle cx="363.5" cy="414.97" r="1.5" fill="#A097D0" stroke="#26224a" stroke-width="0.85"/>
<circle cx="361.2" cy="406.2" r="1.5" fill="#A097D0" stroke="#26224a" stroke-width="0.85"/>
<circle cx="371.3" cy="413.54" r="1.5" fill="#64A8D8" stroke="#0f3452" stroke-width="0.85"/>
<circle cx="373.8" cy="413.54" r="1.5" fill="#64A8D8" stroke="#0f3452" stroke-width="0.85"/>
<circle cx="376.3" cy="413.54" r="1.5" fill="#64A8D8" stroke="#0f3452" stroke-width="0.85"/>
<circle cx="372.3" cy="415.74" r="1.5" fill="#64A8D8" stroke="#0f3452" stroke-width="0.85"/>
<circle cx="375.3" cy="418.64" r="1.5" fill="#64A8D8" stroke="#0f3452" stroke-width="0.85"/>
<circle cx="373.8" cy="397.35" r="1.5" fill="#64A8D8" stroke="#0f3452" stroke-width="0.85"/>
<circle cx="373.8" cy="401.09" r="1.5" fill="#64A8D8" stroke="#0f3452" stroke-width="0.85"/>
<circle cx="373.8" cy="409.8" r="1.5" fill="#64A8D8" stroke="#0f3452" stroke-width="0.85"/>
<circle cx="373.8" cy="420.85" r="1.5" fill="#64A8D8" stroke="#0f3452" stroke-width="0.85"/>
<path d="M302.5 377.5V460.3H381.8" stroke="#1c1c1c" stroke-width="1" fill="none"/>
<path d="M299.5 460.3H302.5" stroke="#1c1c1c" stroke-width="0.95"/>
<text x="296.4" y="462.5" font-size="6.45" text-anchor="end" fill="#262626">0</text>
<path d="M299.5 444.34H302.5" stroke="#1c1c1c" stroke-width="0.95"/>
<text x="296.4" y="446.54" font-size="6.45" text-anchor="end" fill="#262626">500</text>
<path d="M299.5 428.38H302.5" stroke="#1c1c1c" stroke-width="0.95"/>
<text x="296.4" y="430.58" font-size="6.45" text-anchor="end" fill="#262626">1000</text>
<path d="M299.5 412.42H302.5" stroke="#1c1c1c" stroke-width="0.95"/>
<text x="296.4" y="414.62" font-size="6.45" text-anchor="end" fill="#262626">1500</text>
<path d="M299.5 396.46H302.5" stroke="#1c1c1c" stroke-width="0.95"/>
<text x="296.4" y="398.66" font-size="6.45" text-anchor="end" fill="#262626">2000</text>
<path d="M299.5 380.5H302.5" stroke="#1c1c1c" stroke-width="0.95"/>
<text x="296.4" y="382.7" font-size="6.45" text-anchor="end" fill="#262626">2500</text>
<path d="M310.8 460.3V463.2" stroke="#1c1c1c" stroke-width="0.95"/>
<text x="313.7" y="469.8" font-size="6.4" text-anchor="end" fill="#222" stroke="#222" stroke-width="0.1" transform="rotate(-45 313.7 469.8)">&lt;32</text>
<path d="M323.4 460.3V463.2" stroke="#1c1c1c" stroke-width="0.95"/>
<text x="326.3" y="469.8" font-size="6.4" text-anchor="end" fill="#222" stroke="#222" stroke-width="0.1" transform="rotate(-45 326.3 469.8)">32-36</text>
<path d="M336 460.3V463.2" stroke="#1c1c1c" stroke-width="0.95"/>
<text x="338.9" y="469.8" font-size="6.4" text-anchor="end" fill="#222" stroke="#222" stroke-width="0.1" transform="rotate(-45 338.9 469.8)">1</text>
<path d="M348.6 460.3V463.2" stroke="#1c1c1c" stroke-width="0.95"/>
<text x="351.5" y="469.8" font-size="6.4" text-anchor="end" fill="#222" stroke="#222" stroke-width="0.1" transform="rotate(-45 351.5 469.8)">28d-2a</text>
<path d="M361.2 460.3V463.2" stroke="#1c1c1c" stroke-width="0.95"/>
<text x="364.1" y="469.8" font-size="6.4" text-anchor="end" fill="#222" stroke="#222" stroke-width="0.1" transform="rotate(-45 364.1 469.8)">2-13a</text>
<path d="M373.8 460.3V463.2" stroke="#1c1c1c" stroke-width="0.95"/>
<text x="376.7" y="469.8" font-size="6.4" text-anchor="end" fill="#222" stroke="#222" stroke-width="0.1" transform="rotate(-45 376.7 469.8)">&gt;13a</text>
<text x="-17.55" y="0" font-size="7.9" font-weight="normal" fill="#1a1a1a" stroke="#1a1a1a" stroke-width="0.22" textLength="35.1" lengthAdjust="spacingAndGlyphs" transform="translate(275.95 420.45) rotate(-90)" xml:space="preserve">GeoMFI CD29</text>
<path d="M311.9 360V358.4H373.8V360" stroke="#333" stroke-width="0.9" fill="none"/>
<text x="343" y="358.75" font-size="6.4" text-anchor="middle" fill="#333" letter-spacing="-0.3">**</text>
<path d="M311.9 367V365.4H361.2V367" stroke="#333" stroke-width="0.9" fill="none"/>
<text x="336.7" y="365.75" font-size="6.4" text-anchor="middle" fill="#333" letter-spacing="-0.3">**</text>
<path d="M311.9 374.3V372.7H348.6V374.3" stroke="#333" stroke-width="0.9" fill="none"/>
<text x="330.4" y="373.05" font-size="6.4" text-anchor="middle" fill="#333" letter-spacing="-0.3">**</text>
<path d="M323.4 381.6V380H375V381.6" stroke="#333" stroke-width="0.9" fill="none"/>
<text x="349.35" y="380.35" font-size="6.4" text-anchor="middle" fill="#333" letter-spacing="-0.3">**</text>
<path d="M323.4 388.9V387.3H362.5V388.9" stroke="#333" stroke-width="0.9" fill="none"/>
<text x="343.1" y="387.65" font-size="6.4" text-anchor="middle" fill="#333" letter-spacing="-0.3">*</text>
<path d="M323.4 395.9V394.3H348.6V395.9" stroke="#333" stroke-width="0.9" fill="none"/>
<text x="336.15" y="394.65" font-size="6.4" text-anchor="middle" fill="#333" letter-spacing="-0.3">**</text>
<rect x="0.5" y="0.5" width="519" height="490" fill="none" stroke="#616161" stroke-width="1"/>
</svg>
</body></html>
